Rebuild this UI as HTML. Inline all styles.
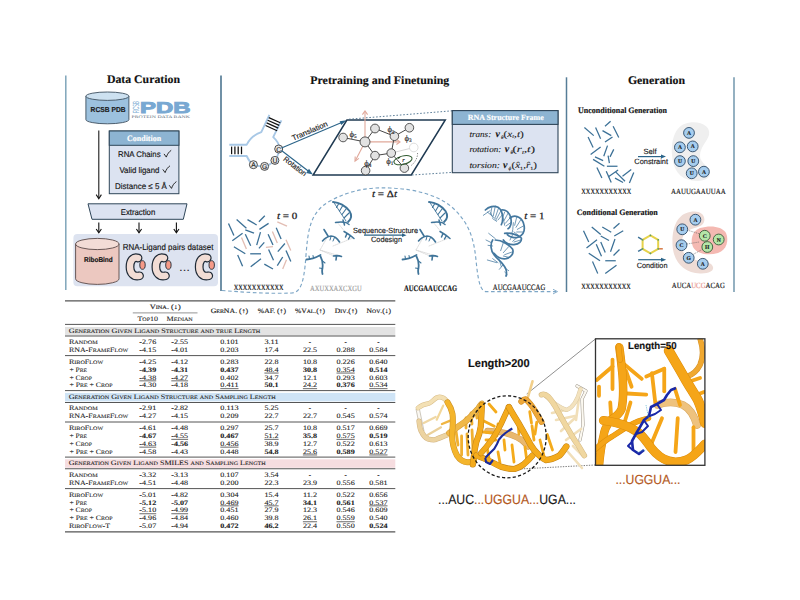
<!DOCTYPE html>
<html><head><meta charset="utf-8"><style>
html,body{margin:0;padding:0;background:#fff;width:800px;height:600px;overflow:hidden}
svg{display:block;text-rendering:geometricPrecision}
.S{font-family:"Liberation Serif", serif}
.A{font-family:"Liberation Sans", sans-serif}
text{stroke-width:0.15px}
</style></head><body>
<svg width="800" height="600" viewBox="0 0 800 600">
<rect width="800" height="600" fill="#fff"/>
<line x1="65.8" y1="75.5" x2="65.8" y2="290" stroke="#7fa5ba" stroke-width="1.5"/>
<line x1="221" y1="75.5" x2="221" y2="291" stroke="#4d7590" stroke-width="1.6"/>
<line x1="566.5" y1="77.3" x2="566.5" y2="292" stroke="#567d97" stroke-width="1.5"/>
<line x1="734" y1="77.3" x2="734" y2="292" stroke="#7a9db2" stroke-width="1.6"/>
<text x="106.9" y="83" class="S" font-size="11.6" font-weight="bold" font-style="normal" fill="#111" text-anchor="start" textLength="73.1" lengthAdjust="spacingAndGlyphs"  stroke="#111">Data Curation</text>
<text x="310.3" y="83.5" class="S" font-size="11.6" font-weight="bold" font-style="normal" fill="#111" text-anchor="start" textLength="139" lengthAdjust="spacingAndGlyphs"  stroke="#111">Pretraining and Finetuning</text>
<text x="627.9" y="83.8" class="S" font-size="11.6" font-weight="bold" font-style="normal" fill="#111" text-anchor="start" textLength="57.1" lengthAdjust="spacingAndGlyphs"  stroke="#111">Generation</text>
<path d="M85.9,96.2 L85.9,119.6 A21.5,4.2 0 0 0 128.9,119.6 L128.9,96.2" fill="#9cc1de" stroke="#3d4f5f" stroke-width="0.9"/><ellipse cx="107.4" cy="96.2" rx="21.5" ry="4.2" fill="#cde1f0" stroke="#3d4f5f" stroke-width="0.9"/>
<text x="108.1" y="111.9" class="A" font-size="7.2" font-weight="bold" font-style="normal" fill="#1a1a1a" text-anchor="middle" textLength="35" lengthAdjust="spacingAndGlyphs"  stroke="#1a1a1a">RCSB PDB</text>
<g fill="#7aaad2">
<text x="0" y="0" class="A" font-size="9.0" font-weight="normal" font-style="normal" fill="#7aaad2" text-anchor="middle" stroke="none" transform="translate(138.6,107.1) rotate(-90)" textLength="12" lengthAdjust="spacingAndGlyphs">RCSB</text>
<text x="140" y="113.2" class="A" font-size="15.6" font-weight="bold" font-style="normal" fill="#78a8d2" text-anchor="start" textLength="50.5" lengthAdjust="spacingAndGlyphs" stroke="#78a8d2" style="stroke-width:0.9px">PDB</text>
</g>
<text x="131.5" y="118.2" class="S" font-size="3.8" font-weight="normal" font-style="normal" fill="#66737f" text-anchor="start" textLength="58.5" lengthAdjust="spacingAndGlyphs" stroke="none">PROTEIN DATA BANK</text>
<line x1="98.8" y1="130.6" x2="98.8" y2="198" stroke="#111" stroke-width="1.05"/>
<path d="M96.2,194.6 L98.8,198.8 L101.4,194.6" fill="none" stroke="#111" stroke-width="1.05"/>
<rect x="109.3" y="131" width="69.6" height="62.7" fill="#dce3f1" stroke="#2f4659" stroke-width="1"/>
<rect x="109.3" y="131" width="69.6" height="14.3" fill="#8db4d2" stroke="#2f4659" stroke-width="1"/>
<text x="144.1" y="141.3" class="S" font-size="8.2" font-weight="bold" font-style="normal" fill="#fff" text-anchor="middle" textLength="34" lengthAdjust="spacingAndGlyphs"  stroke="#fff">Condition</text>
<text x="118" y="157.3" class="A" font-size="8.2" font-weight="normal" font-style="normal" fill="#161616" text-anchor="start" textLength="42.6" lengthAdjust="spacingAndGlyphs"  stroke="#161616">RNA Chains</text>
<text x="119.4" y="173.0" class="A" font-size="8.2" font-weight="normal" font-style="normal" fill="#161616" text-anchor="start" textLength="40" lengthAdjust="spacingAndGlyphs"  stroke="#161616">Valid ligand</text>
<text x="115" y="188.8" class="A" font-size="8.2" font-weight="normal" font-style="normal" fill="#161616" text-anchor="start" textLength="51.9" lengthAdjust="spacingAndGlyphs"  stroke="#161616">Distance ≤ 5 Å</text>
<path d="M164,153.9 L166.3,157.10000000000002 C167.5,153.8 169,151.8 171.2,150.3" fill="none" stroke="#1a1a1a" stroke-width="0.9"/>
<path d="M162.8,169.4 L165.10000000000002,172.60000000000002 C166.3,169.3 167.8,167.3 170.0,165.8" fill="none" stroke="#1a1a1a" stroke-width="0.9"/>
<path d="M169.2,185.2 L171.5,188.4 C172.7,185.1 174.2,183.1 176.39999999999998,181.6" fill="none" stroke="#1a1a1a" stroke-width="0.9"/>
<path d="M88,203.8 L187,203.8 L183.3,219.3 L92,219.3 Z" fill="#dce3f1" stroke="#2f4659" stroke-width="1"/>
<text x="138" y="215.2" class="A" font-size="8.4" font-weight="normal" font-style="normal" fill="#111" text-anchor="middle" textLength="34.6" lengthAdjust="spacingAndGlyphs"  stroke="#111">Extraction</text>
<line x1="98.8" y1="222.5" x2="98.8" y2="232.4" stroke="#111" stroke-width="1.1"/>
<path d="M96.2,229 L98.8,232.8 L101.39999999999999,229" fill="none" stroke="#111" stroke-width="1.1"/>
<line x1="139" y1="222.5" x2="139" y2="232.4" stroke="#111" stroke-width="1.1"/>
<path d="M136.4,229 L139,232.8 L141.6,229" fill="none" stroke="#111" stroke-width="1.1"/>
<line x1="176.4" y1="222.5" x2="176.4" y2="232.4" stroke="#111" stroke-width="1.1"/>
<path d="M173.8,229 L176.4,232.8 L179.0,229" fill="none" stroke="#111" stroke-width="1.1"/>
<rect x="73.4" y="234" width="144.6" height="52.3" rx="4" fill="#dde3f0"/>
<path d="M75.6,244.0 L75.6,278.79999999999995 A21.7,5.6 0 0 0 119.0,278.79999999999995 L119.0,244.0" fill="#ecc8c0" stroke="#5a4a48" stroke-width="0.9"/><ellipse cx="97.3" cy="244.0" rx="21.7" ry="5.6" fill="#f3dcd6" stroke="#5a4a48" stroke-width="0.9"/>
<text x="98.4" y="261.9" class="A" font-size="7.0" font-weight="bold" font-style="normal" fill="#111" text-anchor="middle" textLength="28.7" lengthAdjust="spacingAndGlyphs"  stroke="#111">RiboBind</text>
<text x="168.1" y="249.7" class="A" font-size="8.5" font-weight="normal" font-style="normal" fill="#111" text-anchor="middle" textLength="90.5" lengthAdjust="spacingAndGlyphs"  stroke="#111">RNA-Ligand pairs dataset</text>
<path d="M138,258 C133,256.3 130,261 130,267 C130,273 133.5,277.2 139.5,275.8" fill="none" stroke="#1f2a36" stroke-width="8.8" stroke-linecap="round"/><path d="M138,258 C133,256.3 130,261 130,267 C130,273 133.5,277.2 139.5,275.8" fill="none" stroke="#f2ddd5" stroke-width="6.4" stroke-linecap="round"/><ellipse cx="142.5" cy="265" rx="2.7" ry="4.3" fill="#f59a88" stroke="#1f2a36" stroke-width="0.9"/>
<path d="M163.9,258 C158.9,256.3 155.9,261 155.9,267 C155.9,273 159.4,277.2 165.4,275.8" fill="none" stroke="#1f2a36" stroke-width="8.8" stroke-linecap="round"/><path d="M163.9,258 C158.9,256.3 155.9,261 155.9,267 C155.9,273 159.4,277.2 165.4,275.8" fill="none" stroke="#f2ddd5" stroke-width="6.4" stroke-linecap="round"/><ellipse cx="168.4" cy="265" rx="2.7" ry="4.3" fill="#f59a88" stroke="#1f2a36" stroke-width="0.9"/>
<path d="M207.2,258 C202.2,256.3 199.2,261 199.2,267 C199.2,273 202.7,277.2 208.7,275.8" fill="none" stroke="#1f2a36" stroke-width="8.8" stroke-linecap="round"/><path d="M207.2,258 C202.2,256.3 199.2,261 199.2,267 C199.2,273 202.7,277.2 208.7,275.8" fill="none" stroke="#f2ddd5" stroke-width="6.4" stroke-linecap="round"/><ellipse cx="211.7" cy="265" rx="2.7" ry="4.3" fill="#f59a88" stroke="#1f2a36" stroke-width="0.9"/>
<text x="184.4" y="270.5" class="A" font-size="11.5" font-weight="normal" font-style="normal" fill="#222" text-anchor="middle"  stroke="#222">…</text>
<path d="M229.3,144.7 L246.7,144.7 C249,140 253,135 261.3,132.2 L269.4,114.9" fill="none" stroke="#a8c8e6" stroke-width="1.9" stroke-linejoin="round"/>
<path d="M281.4,120.3 L273.2,137.1 C276.5,140 279,144 279.5,148" fill="none" stroke="#a8c8e6" stroke-width="1.9" stroke-linejoin="round"/>
<path d="M229.3,156 L246.7,156 C248.5,160 250.5,163 253.4,164.7 M257,165.8 L261,166.4 M268,165.6 L271.5,163 M277,157 L278.7,152.5" fill="none" stroke="#a8c8e6" stroke-width="1.9" stroke-linejoin="round"/>
<line x1="231.6" y1="146.6" x2="231.6" y2="154.2" stroke="#111" stroke-width="1.25"/>
<line x1="234.9" y1="146.6" x2="234.9" y2="154.2" stroke="#111" stroke-width="1.25"/>
<line x1="238.2" y1="146.6" x2="238.2" y2="154.2" stroke="#111" stroke-width="1.25"/>
<line x1="241.5" y1="146.6" x2="241.5" y2="154.2" stroke="#111" stroke-width="1.25"/>
<line x1="268.8" y1="117.6" x2="280.3" y2="122.8" stroke="#111" stroke-width="1.2"/>
<line x1="267.7" y1="120.2" x2="279.2" y2="125.4" stroke="#111" stroke-width="1.2"/>
<line x1="266.7" y1="122.9" x2="278.2" y2="128.1" stroke="#111" stroke-width="1.2"/>
<line x1="265.6" y1="125.5" x2="277.1" y2="130.7" stroke="#111" stroke-width="1.2"/>
<circle cx="278.7" cy="149" r="4.0" fill="#e8e8e8" stroke="#333" stroke-width="0.85"/>
<text x="278.7" y="151.5" class="A" font-size="6.8" font-weight="normal" font-style="normal" fill="#222" text-anchor="middle"  stroke="#222">C</text>
<circle cx="274.9" cy="160.4" r="4.0" fill="#e8e8e8" stroke="#333" stroke-width="0.85"/>
<text x="274.9" y="162.9" class="A" font-size="6.8" font-weight="normal" font-style="normal" fill="#222" text-anchor="middle"  stroke="#222">U</text>
<circle cx="264.6" cy="166.4" r="4.0" fill="#e8e8e8" stroke="#333" stroke-width="0.85"/>
<text x="264.6" y="168.9" class="A" font-size="6.8" font-weight="normal" font-style="normal" fill="#222" text-anchor="middle"  stroke="#222">G</text>
<circle cx="253.4" cy="164.7" r="4.0" fill="#e8e8e8" stroke="#333" stroke-width="0.85"/>
<text x="253.4" y="167.2" class="A" font-size="6.8" font-weight="normal" font-style="normal" fill="#222" text-anchor="middle"  stroke="#222">A</text>
<line x1="281.5" y1="148" x2="344" y2="121.4" stroke="#2b6489" stroke-width="1.1"/>
<path d="M339.6,121.2 L346.6,120.3 L341.3,125 Z" fill="#2b6489"/>
<line x1="281.5" y1="150.5" x2="310.5" y2="172.8" stroke="#2b6489" stroke-width="1.1"/>
<path d="M306.2,172.9 L312.9,174.6 L309,168.7 Z" fill="#2b6489"/>
<text x="0" y="0" class="A" font-size="7.6" font-weight="normal" font-style="normal" fill="#222" text-anchor="middle" transform="translate(310.8,133.3) rotate(-23)" textLength="38" lengthAdjust="spacingAndGlyphs" stroke="#222">Translation</text>
<text x="0" y="0" class="A" font-size="7.6" font-weight="normal" font-style="normal" fill="#222" text-anchor="middle" transform="translate(293.5,168.3) rotate(38)" textLength="27" lengthAdjust="spacingAndGlyphs" stroke="#222">Rotation</text>
<path d="M346.9,120 L445.3,120 L411.3,175 L313.1,175 Z" fill="none" stroke="#1f3a52" stroke-width="1.5" stroke-linejoin="miter"/>
<path d="M349,119.2 L452.3,110.8 M412,175 L452.3,172.4" fill="none" stroke="#4a6f8c" stroke-width="0.9" stroke-dasharray="1.6,1.8"/>
<g stroke="#e0a89a" stroke-width="1.1" fill="none"><line x1="365" y1="141.9" x2="365" y2="111.5"/><path d="M362.4,114.6 L365,111 L367.6,114.6"/><line x1="365" y1="141.9" x2="399.5" y2="141.9"/><path d="M396.4,139.3 L400,141.9 L396.4,144.5"/><line x1="365" y1="141.9" x2="355.3" y2="160.8"/><path d="M355.2,156.4 L355,161.2 L358.9,158.4"/></g>
<line x1="343.1" y1="137.5" x2="365" y2="141.9" stroke="#333" stroke-width="0.9"/>
<line x1="365" y1="141.9" x2="375" y2="128.5" stroke="#333" stroke-width="0.9"/>
<line x1="375" y1="128.5" x2="394.4" y2="136.25" stroke="#333" stroke-width="0.9"/>
<line x1="394.4" y1="136.25" x2="409.4" y2="127.75" stroke="#333" stroke-width="0.9"/>
<line x1="394.4" y1="136.25" x2="391.25" y2="153.1" stroke="#333" stroke-width="0.9"/>
<line x1="391.25" y1="153.1" x2="375" y2="155.6" stroke="#333" stroke-width="0.9"/>
<line x1="375" y1="155.6" x2="365" y2="141.9" stroke="#333" stroke-width="0.9"/>
<line x1="375" y1="155.6" x2="365.6" y2="170.6" stroke="#333" stroke-width="0.9"/>
<line x1="391.25" y1="153.1" x2="404.4" y2="168.1" stroke="#333" stroke-width="0.9"/>
<line x1="391.25" y1="153.1" x2="413.75" y2="147.5" stroke="#ccc" stroke-width="0.8"/>
<circle cx="413.75" cy="147.5" r="4.3" fill="#fff" stroke="#d6d6d6" stroke-width="0.8"/>
<path d="M417.5,153 C418,157 415,163 410.5,166" fill="none" stroke="#555" stroke-width="0.7" stroke-dasharray="1.3,1.3"/>
<circle cx="343.1" cy="137.5" r="4.3" fill="#e2e2e2" stroke="#3a3a3a" stroke-width="0.85"/>
<circle cx="365" cy="141.9" r="5.0" fill="#e2e2e2" stroke="#3a3a3a" stroke-width="0.85"/>
<circle cx="375" cy="128.5" r="4.4" fill="#e2e2e2" stroke="#3a3a3a" stroke-width="0.85"/>
<circle cx="394.4" cy="136.25" r="4.3" fill="#e2e2e2" stroke="#3a3a3a" stroke-width="0.85"/>
<circle cx="409.4" cy="127.75" r="4.3" fill="#e2e2e2" stroke="#3a3a3a" stroke-width="0.85"/>
<circle cx="391.25" cy="153.1" r="4.3" fill="#e2e2e2" stroke="#3a3a3a" stroke-width="0.85"/>
<circle cx="375" cy="155.6" r="4.3" fill="#e2e2e2" stroke="#3a3a3a" stroke-width="0.85"/>
<circle cx="365.6" cy="170.6" r="4.3" fill="#e2e2e2" stroke="#3a3a3a" stroke-width="0.85"/>
<circle cx="404.4" cy="168.1" r="4.3" fill="#e2e2e2" stroke="#3a3a3a" stroke-width="0.85"/>
<ellipse cx="403" cy="160.2" rx="9.3" ry="4.2" transform="rotate(-14 403 160.2)" fill="none" stroke="#2f5a2f" stroke-width="1"/>
<path d="M397.5,157.4 L401,156.6 L398.6,159" fill="#1f3f1f"/>
<text x="403.5" y="162.3" class="S" font-size="6.2" font-weight="normal" font-style="italic" fill="#222" text-anchor="middle"  stroke="#222">r</text>
<text x="349.5" y="136.7" class="S" font-size="8.6" fill="#222" stroke="#222">ϕ<tspan font-size="5.2" dy="1.3">5</tspan></text>
<text x="387.5" y="132.3" class="S" font-size="8.6" fill="#222" stroke="#222">ϕ<tspan font-size="5.2" dy="1.3">2</tspan></text>
<text x="404.5" y="141.0" class="S" font-size="8.6" fill="#222" stroke="#222">ϕ<tspan font-size="5.2" dy="1.3">3</tspan></text>
<text x="386.2" y="164.1" class="S" font-size="8.6" fill="#222" stroke="#222">ϕ<tspan font-size="5.2" dy="1.3">1</tspan></text>
<text x="364.3" y="166.0" class="S" font-size="8.6" fill="#222" stroke="#222">ϕ<tspan font-size="5.2" dy="1.3">4</tspan></text>
<rect x="452.3" y="110.6" width="105.7" height="62.1" fill="#dce3f1" stroke="#2f4659" stroke-width="1.1"/>
<rect x="452.3" y="110.6" width="105.7" height="13.8" fill="#8db4d2" stroke="#2f4659" stroke-width="1.1"/>
<text x="505.7" y="120.3" class="S" font-size="8.0" font-weight="bold" font-style="normal" fill="#fff" text-anchor="middle" textLength="76" lengthAdjust="spacingAndGlyphs"  stroke="#fff">RNA Structure Frame</text>
<text x="469.4" y="136.9" class="S" font-size="8.6" font-style="italic" fill="#1a1a1a" style="stroke-width:0.1px" textLength="21.8" lengthAdjust="spacingAndGlyphs" stroke="#1a1a1a">trans:</text><text x="495.4" y="136.9" class="S" font-size="10" font-style="italic" font-weight="bold" fill="#111" style="stroke-width:0.1px" stroke="#111">v</text><text x="501.0" y="138.70000000000002" class="S" font-size="5.2" font-style="italic" fill="#1a1a1a" style="stroke-width:0.1px" stroke="#1a1a1a">θ</text><text x="503.6" y="136.9" class="S" font-size="9" fill="#1a1a1a" style="stroke-width:0.1px" textLength="20.199999999999932" lengthAdjust="spacingAndGlyphs" stroke="#1a1a1a">(<tspan font-style="italic">x</tspan><tspan font-size="5" dy="1.5" font-style="italic">t</tspan><tspan dy="-1.5">,</tspan><tspan font-style="italic">t</tspan>)</text>
<text x="469.4" y="152.0" class="S" font-size="8.6" font-style="italic" fill="#1a1a1a" style="stroke-width:0.1px" textLength="31.8" lengthAdjust="spacingAndGlyphs" stroke="#1a1a1a">rotation:</text><text x="504.8" y="152.0" class="S" font-size="10" font-style="italic" font-weight="bold" fill="#111" style="stroke-width:0.1px" stroke="#111">v</text><text x="510.40000000000003" y="153.8" class="S" font-size="5.2" font-style="italic" fill="#1a1a1a" style="stroke-width:0.1px" stroke="#1a1a1a">θ</text><text x="512.6" y="152.0" class="S" font-size="9" fill="#1a1a1a" style="stroke-width:0.1px" textLength="22.399999999999977" lengthAdjust="spacingAndGlyphs" stroke="#1a1a1a">(<tspan font-style="italic">r</tspan><tspan font-size="5" dy="1.5" font-style="italic">t</tspan><tspan dy="-1.5">,</tspan><tspan font-style="italic">t</tspan>)</text>
<text x="469.4" y="168.0" class="S" font-size="8.6" font-style="italic" fill="#1a1a1a" style="stroke-width:0.1px" textLength="30.6" lengthAdjust="spacingAndGlyphs" stroke="#1a1a1a">torsion:</text><text x="503.0" y="168.0" class="S" font-size="10" font-style="italic" font-weight="bold" fill="#111" style="stroke-width:0.1px" stroke="#111">v</text><text x="508.6" y="169.8" class="S" font-size="5.2" font-style="italic" fill="#1a1a1a" style="stroke-width:0.1px" stroke="#1a1a1a">ϕ</text><text x="511.6" y="168.0" class="S" font-size="9" fill="#1a1a1a" style="stroke-width:0.1px" textLength="25.299999999999955" lengthAdjust="spacingAndGlyphs" stroke="#1a1a1a">(<tspan font-style="italic">x̂</tspan><tspan font-size="5" dy="1.5">1</tspan><tspan dy="-1.5">,</tspan><tspan font-style="italic">r̂</tspan><tspan font-size="5" dy="1.5">1</tspan><tspan dy="-1.5">)</tspan></text>
<g stroke="#e2bdb3" stroke-width="1.3" stroke-linecap="butt"><line x1="277.3" y1="221.8" x2="287" y2="226.1"/><line x1="241.5" y1="237.5" x2="246.4" y2="248.9"/><line x1="272.4" y1="231.6" x2="277.3" y2="242.9"/><line x1="265.9" y1="247.3" x2="272.9" y2="246.7"/><line x1="286" y1="239.7" x2="290.8" y2="250.5"/><line x1="282.7" y1="269" x2="286.5" y2="259.7"/></g>
<g stroke="#3b7096" stroke-width="1.3" stroke-linecap="butt"><line x1="228.5" y1="223.4" x2="233.9" y2="235.4"/><line x1="236.6" y1="219.6" x2="246.4" y2="228.3"/><line x1="247.5" y1="219.6" x2="256.7" y2="225"/><line x1="258.9" y1="221.8" x2="264.8" y2="215.8"/><line x1="259.4" y1="229.4" x2="268.6" y2="223.4"/><line x1="245.3" y1="229.9" x2="254" y2="233.2"/><line x1="232.3" y1="240.8" x2="242.6" y2="233.2"/><line x1="245.3" y1="234.3" x2="250.7" y2="245.7"/><line x1="256.7" y1="245.1" x2="260.5" y2="232.1"/><line x1="258.9" y1="248.4" x2="264.3" y2="242.4"/><line x1="268.1" y1="234.3" x2="273" y2="245.1"/><line x1="276.2" y1="227.8" x2="281.1" y2="239.1"/><line x1="233.9" y1="246.7" x2="245.3" y2="253.8"/><line x1="250.2" y1="253.8" x2="261" y2="253.8"/><line x1="268.6" y1="249.4" x2="273.5" y2="260.3"/><line x1="277.8" y1="251.6" x2="284.9" y2="243.5"/><line x1="237.7" y1="254.9" x2="242.6" y2="266.2"/><line x1="250.7" y1="266.8" x2="261" y2="258.7"/><line x1="264.3" y1="264.1" x2="273" y2="269"/><line x1="277.3" y1="265.7" x2="282.7" y2="257"/><line x1="286" y1="250.5" x2="290.8" y2="261.4"/></g>
<text x="277" y="219.3" class="S" font-size="9.6" fill="#1a1a1a" style="stroke-width:0.25px" textLength="20.3" lengthAdjust="spacingAndGlyphs" stroke="#1a1a1a"><tspan font-style="italic">t</tspan> = 0</text>
<text x="372" y="197" class="S" font-size="9.6" fill="#1a1a1a" style="stroke-width:0.25px" textLength="25" lengthAdjust="spacingAndGlyphs" stroke="#1a1a1a"><tspan font-style="italic">t</tspan> = Δ<tspan font-style="italic">t</tspan></text>
<text x="524.3" y="218.9" class="S" font-size="9.6" fill="#1a1a1a" style="stroke-width:0.25px" textLength="20.1" lengthAdjust="spacingAndGlyphs" stroke="#1a1a1a"><tspan font-style="italic">t</tspan> = 1</text>
<path d="M222,290.5 C240,292 270,294 292,293 C300,292 304,285 306,255 C308,230 310,212 330,201 C350,190 370,187 390,188 C415,189 440,195 455,210 C470,225 474,240 476,260 C478,280 480,291 486,291.6 L556,291.6" fill="none" stroke="#7da6c6" stroke-width="1.15" stroke-dasharray="3.6,2.6"/>
<path d="M553,289.3 L557.5,291.6 L553,293.9" fill="none" stroke="#7da6c6" stroke-width="0.9"/>
<text x="385.5" y="233" class="A" font-size="7.6" font-weight="normal" font-style="normal" fill="#1a1a1a" text-anchor="middle" textLength="65" lengthAdjust="spacingAndGlyphs"  stroke="#1a1a1a">Sequence-Structure</text>
<text x="386.5" y="242.4" class="A" font-size="7.6" font-weight="normal" font-style="normal" fill="#1a1a1a" text-anchor="middle" textLength="31" lengthAdjust="spacingAndGlyphs"  stroke="#1a1a1a">Codesign</text>
<line x1="364" y1="235.2" x2="403" y2="235.2" stroke="#2b6489" stroke-width="1.2"/>
<path d="M402,233.3 L406.5,235.2 L402,237.1 Z" fill="#2b6489"/>
<text x="233.8" y="290.3" class="S" font-size="7.8" font-weight="normal" font-style="normal" fill="#111" text-anchor="start" textLength="49.7" lengthAdjust="spacingAndGlyphs"  stroke="#111">XXXXXXXXXXX</text>
<text x="310" y="290.6" class="S" font-size="8.0" font-weight="normal" font-style="normal" fill="#9a9a9a" text-anchor="start" textLength="51.6" lengthAdjust="spacingAndGlyphs"  stroke="#9a9a9a">AXUXXAXCXGU</text>
<text x="404" y="290.5" class="S" font-size="8.2" font-weight="bold" font-style="normal" fill="#111" text-anchor="start" textLength="53" lengthAdjust="spacingAndGlyphs"  stroke="#111">AUCGAAUCCAG</text>
<text x="492.8" y="290.3" class="S" font-size="8.2" font-weight="normal" font-style="normal" fill="#111" text-anchor="start" textLength="52.5" lengthAdjust="spacingAndGlyphs"  stroke="#111">AUCGAAUCCAG</text>
<g transform="translate(0,0)" fill="none" stroke="#3f7499" stroke-linecap="round" stroke-linejoin="round"><path d="M337,222 L346,233 M328,236 L320,250 L334,256 M333,246 L353,238 M320,250 L340,256" stroke="#c8c8c8" stroke-width="0.6" stroke-dasharray="1,1"/><path d="M333,202 C339,202.5 345,205.5 349.5,211 C352,215 351.5,219 348,222" stroke-width="1.9"/><path d="M334.5,203.5 C338,209 342,215 346,221" stroke-width="0.9"/><path d="M338.5,204 L336.5,207.5 M342.5,206 L339.5,211 M346,209 L342,214.5 M349,213 L344,218" stroke-width="1.1"/><path d="M335.5,222.5 C339,222 343,222 346,222.5 L349,224.5 M343,220 L344.5,225" stroke-width="1.5"/><path d="M324,229.5 L328,236 M322.5,241 C325,238 328,236.5 331,236 C334,236 337,238 339.5,242" stroke-width="1.6"/><path d="M331,236.5 L330,240 M334.5,237.5 L333,241" stroke-width="1"/><path d="M344,231.5 C348,233.5 351,236 354,238.5 M347,233.5 L345.5,237 M350.5,235.5 L348.5,239" stroke-width="1.5"/><path d="M306.5,259.5 C310,259.5 315,258 320.5,255 M320.5,256.5 C322.5,260 323,264 322.5,268 C322,270 322,272 322.5,274" stroke-width="1.8"/><path d="M309.5,259 L309,256 M313.5,258 L313,255.5 M322.5,261 L325,263 M322,268.5 L319.5,268" stroke-width="1.1"/><path d="M333.5,256 C336,255.5 339,255.5 341.5,256.5 M336.5,256 L336,260" stroke-width="1.6"/></g>
<g transform="translate(96,0)" fill="none" stroke="#3f7499" stroke-linecap="round" stroke-linejoin="round"><path d="M337,222 L346,233 M328,236 L320,250 L334,256 M333,246 L353,238 M320,250 L340,256" stroke="#c8c8c8" stroke-width="0.6" stroke-dasharray="1,1"/><path d="M333,202 C339,202.5 345,205.5 349.5,211 C352,215 351.5,219 348,222" stroke-width="1.9"/><path d="M334.5,203.5 C338,209 342,215 346,221" stroke-width="0.9"/><path d="M338.5,204 L336.5,207.5 M342.5,206 L339.5,211 M346,209 L342,214.5 M349,213 L344,218" stroke-width="1.1"/><path d="M335.5,222.5 C339,222 343,222 346,222.5 L349,224.5 M343,220 L344.5,225" stroke-width="1.5"/><path d="M324,229.5 L328,236 M322.5,241 C325,238 328,236.5 331,236 C334,236 337,238 339.5,242" stroke-width="1.6"/><path d="M331,236.5 L330,240 M334.5,237.5 L333,241" stroke-width="1"/><path d="M344,231.5 C348,233.5 351,236 354,238.5 M347,233.5 L345.5,237 M350.5,235.5 L348.5,239" stroke-width="1.5"/><path d="M306.5,259.5 C310,259.5 315,258 320.5,255 M320.5,256.5 C322.5,260 323,264 322.5,268 C322,270 322,272 322.5,274" stroke-width="1.8"/><path d="M309.5,259 L309,256 M313.5,258 L313,255.5 M322.5,261 L325,263 M322,268.5 L319.5,268" stroke-width="1.1"/><path d="M333.5,256 C336,255.5 339,255.5 341.5,256.5 M336.5,256 L336,260" stroke-width="1.6"/></g>
<g transform="translate(478,200) scale(0.13333)" fill="none" stroke="#44789f" stroke-linecap="round" stroke-linejoin="round"><g stroke-width="1.7" vector-effect="non-scaling-stroke"><path vector-effect="non-scaling-stroke" d="M55,75 C80,50 120,40 150,55 C175,70 185,100 185,140 C185,160 180,175 175,185"/><path vector-effect="non-scaling-stroke" d="M175,75 C205,70 235,90 245,130 C255,170 245,205 225,215"/><path vector-effect="non-scaling-stroke" d="M240,135 C270,110 320,120 340,170 C355,215 345,255 310,275 C280,290 240,280 220,260"/><path vector-effect="non-scaling-stroke" d="M200,250 C240,245 300,260 325,285 C330,310 310,330 270,335 C240,338 200,320 190,300"/><path vector-effect="non-scaling-stroke" d="M130,300 C180,300 240,340 260,370 C270,400 250,430 210,440 C170,445 140,425 120,400"/><path vector-effect="non-scaling-stroke" d="M110,300 C90,330 95,380 120,410 C150,450 190,470 210,520 C215,540 215,560 210,570"/></g><g stroke-width="0.75"><path vector-effect="non-scaling-stroke" d="M70,90 C95,110 120,130 140,150"/><path vector-effect="non-scaling-stroke" d="M105,48 L95,105"/><path vector-effect="non-scaling-stroke" d="M130,45 L115,118"/><path vector-effect="non-scaling-stroke" d="M155,58 L130,130"/><path vector-effect="non-scaling-stroke" d="M172,80 L140,140"/><path vector-effect="non-scaling-stroke" d="M183,110 L150,150"/><path vector-effect="non-scaling-stroke" d="M40,115 L90,80"/><path vector-effect="non-scaling-stroke" d="M95,95 L110,130"/><path vector-effect="non-scaling-stroke" d="M110,140 L140,160"/><path vector-effect="non-scaling-stroke" d="M180,100 L200,190"/><path vector-effect="non-scaling-stroke" d="M200,90 L185,130"/><path vector-effect="non-scaling-stroke" d="M225,100 L195,155"/><path vector-effect="non-scaling-stroke" d="M240,135 L205,175"/><path vector-effect="non-scaling-stroke" d="M245,170 L210,195"/><path vector-effect="non-scaling-stroke" d="M290,130 L275,190"/><path vector-effect="non-scaling-stroke" d="M320,150 L285,205"/><path vector-effect="non-scaling-stroke" d="M340,195 L295,220"/><path vector-effect="non-scaling-stroke" d="M340,240 L290,240"/><path vector-effect="non-scaling-stroke" d="M310,270 L270,240"/><path vector-effect="non-scaling-stroke" d="M265,170 C260,210 265,235 250,255"/><path vector-effect="non-scaling-stroke" d="M260,260 L240,300"/><path vector-effect="non-scaling-stroke" d="M300,275 L260,310"/><path vector-effect="non-scaling-stroke" d="M320,300 L270,315"/><path vector-effect="non-scaling-stroke" d="M190,320 L170,380"/><path vector-effect="non-scaling-stroke" d="M230,350 L190,395"/><path vector-effect="non-scaling-stroke" d="M255,390 L200,410"/><path vector-effect="non-scaling-stroke" d="M230,430 L190,420"/><path vector-effect="non-scaling-stroke" d="M80,250 L130,290"/><path vector-effect="non-scaling-stroke" d="M60,300 L100,320"/><path vector-effect="non-scaling-stroke" d="M75,340 L110,345"/><path vector-effect="non-scaling-stroke" d="M70,450 L140,470"/><path vector-effect="non-scaling-stroke" d="M110,440 L150,470"/><path vector-effect="non-scaling-stroke" d="M160,450 L175,500"/><path vector-effect="non-scaling-stroke" d="M185,490 L160,520"/><path vector-effect="non-scaling-stroke" d="M200,510 L230,530"/><path vector-effect="non-scaling-stroke" d="M200,540 L220,560"/></g></g>
<text x="578.1" y="112.9" class="S" font-size="8.3" font-weight="bold" font-style="normal" fill="#111" text-anchor="start" textLength="88.8" lengthAdjust="spacingAndGlyphs"  stroke="#111">Unconditional Generation</text>
<text x="576.8" y="215" class="S" font-size="8.3" font-weight="bold" font-style="normal" fill="#111" text-anchor="start" textLength="81" lengthAdjust="spacingAndGlyphs"  stroke="#111">Conditional Generation</text>
<g stroke="#3b7096" stroke-width="1.25" stroke-linecap="butt"><line x1="584.4" y1="127.5" x2="593.75" y2="135.6"/><line x1="595.6" y1="127.5" x2="600.6" y2="138.75"/><line x1="605" y1="126.25" x2="610.6" y2="121.25"/><line x1="602.5" y1="130.6" x2="611.25" y2="135.6"/><line x1="613.1" y1="126.25" x2="618.75" y2="137.5"/><line x1="605" y1="141.9" x2="612.5" y2="136.9"/><line x1="588.1" y1="136.9" x2="593.1" y2="147.5"/><line x1="590.6" y1="154.4" x2="600.6" y2="146.9"/><line x1="603.75" y1="156.25" x2="607.5" y2="145.6"/><line x1="610" y1="156.9" x2="613.75" y2="149.4"/><line x1="595" y1="156.9" x2="603.1" y2="160.6"/><line x1="593.1" y1="159.4" x2="604.4" y2="166.25"/><line x1="608.1" y1="155.6" x2="609.4" y2="163.1"/><line x1="606.9" y1="166.25" x2="617.5" y2="166.25"/><line x1="596.9" y1="167.5" x2="601.9" y2="178.1"/><line x1="606.25" y1="171.25" x2="611.25" y2="182.5"/><line x1="608.1" y1="176.9" x2="618.1" y2="170"/><line x1="615.6" y1="171.9" x2="625" y2="181.25"/><line x1="622.5" y1="176.25" x2="631.25" y2="169.4"/><line x1="629.4" y1="183.1" x2="633.75" y2="172.5"/><line x1="615" y1="178.1" x2="623.1" y2="182.5"/></g>
<g stroke="#3b7096" stroke-width="1.25" stroke-linecap="butt"><line x1="583.5" y1="230.75" x2="588.75" y2="242"/><line x1="591.75" y1="227" x2="600.75" y2="234.5"/><line x1="602.25" y1="227" x2="611.25" y2="232.25"/><line x1="613.5" y1="228.5" x2="619.5" y2="223.25"/><line x1="614.25" y1="236" x2="623.25" y2="230.75"/><line x1="600.75" y1="236" x2="609" y2="240.5"/><line x1="586.5" y1="248" x2="597" y2="239.75"/><line x1="596.25" y1="244.25" x2="601.5" y2="256.25"/><line x1="600.75" y1="242" x2="605.25" y2="252.5"/><line x1="610.5" y1="251.75" x2="615" y2="239"/><line x1="613.5" y1="255.5" x2="619.5" y2="249.5"/><line x1="588.75" y1="253.25" x2="600" y2="260.75"/><line x1="605.25" y1="260.75" x2="615.75" y2="260.75"/><line x1="592.5" y1="261.5" x2="597.75" y2="273.5"/><line x1="605.25" y1="273.5" x2="616.5" y2="265.25"/></g>
<text x="581.3" y="193.8" class="S" font-size="7.8" font-weight="normal" font-style="normal" fill="#111" text-anchor="start" textLength="50" lengthAdjust="spacingAndGlyphs"  stroke="#111">XXXXXXXXXXX</text>
<text x="581.3" y="288.5" class="S" font-size="7.8" font-weight="normal" font-style="normal" fill="#111" text-anchor="start" textLength="49.5" lengthAdjust="spacingAndGlyphs"  stroke="#111">XXXXXXXXXXX</text>
<text x="671" y="194" class="S" font-size="8.0" font-weight="normal" font-style="normal" fill="#111" text-anchor="start" textLength="54.7" lengthAdjust="spacingAndGlyphs"  stroke="#111">AAUUGAAUUAA</text>
<text x="671.8" y="288.3" class="S" font-size="8.0" fill="#111" textLength="53.2" lengthAdjust="spacingAndGlyphs" stroke="#111">AUCA<tspan fill="#e8948a" stroke="#e8948a">UCG</tspan>ACAG</text>
<text x="650" y="154.4" class="A" font-size="7.6" font-weight="normal" font-style="normal" fill="#1a1a1a" text-anchor="middle" textLength="13" lengthAdjust="spacingAndGlyphs"  stroke="#1a1a1a">Self</text>
<text x="651.2" y="164.4" class="A" font-size="7.6" font-weight="normal" font-style="normal" fill="#1a1a1a" text-anchor="middle" textLength="33.7" lengthAdjust="spacingAndGlyphs"  stroke="#1a1a1a">Constraint</text>
<line x1="638" y1="156.6" x2="662" y2="156.6" stroke="#2b6489" stroke-width="1.2"/>
<path d="M661,154.6 L666,156.6 L661,158.6 Z" fill="#2b6489"/>
<path d="M690,122.5 C702,121 711,127 709,135 C707,142 700,147 700,156 C700,163 709,166 710,172 C711,179 703,182 692,180.5 C680,179 673,170 672,155 C671,138 676,124 690,122.5 Z" fill="#efefef"/>
<circle cx="689" cy="132.9" r="5.4" fill="#a6cdee" stroke="#2d4a66" stroke-width="0.9"/><text x="689" y="134.9" class="S" font-size="5.6" font-weight="bold" font-style="normal" fill="#1a1a1a" text-anchor="middle"  stroke="#1a1a1a">A</text>
<circle cx="679.9" cy="147.3" r="5.4" fill="#a6cdee" stroke="#2d4a66" stroke-width="0.9"/><text x="679.9" y="149.3" class="S" font-size="5.6" font-weight="bold" font-style="normal" fill="#1a1a1a" text-anchor="middle"  stroke="#1a1a1a">A</text>
<circle cx="692.7" cy="146.4" r="5.4" fill="#a6cdee" stroke="#2d4a66" stroke-width="0.9"/><text x="692.7" y="148.4" class="S" font-size="5.6" font-weight="bold" font-style="normal" fill="#1a1a1a" text-anchor="middle"  stroke="#1a1a1a">A</text>
<circle cx="679.9" cy="161.1" r="5.4" fill="#a6cdee" stroke="#2d4a66" stroke-width="0.9"/><text x="679.9" y="163.1" class="S" font-size="5.6" font-weight="bold" font-style="normal" fill="#1a1a1a" text-anchor="middle"  stroke="#1a1a1a">U</text>
<circle cx="693.3" cy="161.1" r="5.4" fill="#a6cdee" stroke="#2d4a66" stroke-width="0.9"/><text x="693.3" y="163.1" class="S" font-size="5.6" font-weight="bold" font-style="normal" fill="#1a1a1a" text-anchor="middle"  stroke="#1a1a1a">U</text>
<circle cx="691.7" cy="173.3" r="5.4" fill="#a6cdee" stroke="#2d4a66" stroke-width="0.9"/><text x="691.7" y="175.3" class="S" font-size="5.6" font-weight="bold" font-style="normal" fill="#1a1a1a" text-anchor="middle"  stroke="#1a1a1a">U</text>
<circle cx="703.9" cy="171.7" r="5.4" fill="#a6cdee" stroke="#2d4a66" stroke-width="0.9"/><text x="703.9" y="173.7" class="S" font-size="5.6" font-weight="bold" font-style="normal" fill="#1a1a1a" text-anchor="middle"  stroke="#1a1a1a">A</text>
<line x1="638.2" y1="259.7" x2="662" y2="259.7" stroke="#2b6489" stroke-width="1.2"/>
<path d="M661,257.7 L666.2,259.7 L661,261.7 Z" fill="#2b6489"/>
<text x="652.1" y="268.3" class="A" font-size="7.6" font-weight="normal" font-style="normal" fill="#1a1a1a" text-anchor="middle" textLength="30.8" lengthAdjust="spacingAndGlyphs"  stroke="#1a1a1a">Condition</text>
<line x1="642.6" y1="239.8" x2="638.1" y2="237.2" stroke="#3b7096" stroke-width="1.4"/>
<line x1="642.6" y1="248.8" x2="638.1" y2="251.4" stroke="#3b7096" stroke-width="1.4"/>
<line x1="658.2" y1="248.8" x2="662.8" y2="248.8" stroke="#d9804f" stroke-width="1.6"/>
<path d="M658.19,248.80 L650.40,253.30 L642.61,248.80 L642.61,239.80 L650.40,235.30 L658.19,239.80 Z" fill="none" stroke="#e6d24a" stroke-width="2.0"/>
<circle cx="658.19" cy="248.80" r="0.9" fill="#5a9a6a"/>
<circle cx="650.40" cy="253.30" r="0.9" fill="#5a9a6a"/>
<circle cx="642.61" cy="248.80" r="0.9" fill="#5a9a6a"/>
<circle cx="642.61" cy="239.80" r="0.9" fill="#5a9a6a"/>
<circle cx="650.40" cy="235.30" r="0.9" fill="#5a9a6a"/>
<circle cx="658.19" cy="239.80" r="0.9" fill="#5a9a6a"/>
<path d="M690,212 C700,210 706,215 704,222 C702,228 692,227 686,232 C680,238 680,250 686,256 C692,261 705,260 711,264 C716,269 712,274 700,273.5 C684,273 673,262 672.5,244 C672,226 678,214 690,212 Z" fill="#eedcd6"/>
<path d="M700,228 C710,225 722,226 726,233 C729,240 727,250 718,253 C708,256 697,254 693,247 C690,240 692,231 700,228 Z" fill="#f4b9b2"/>
<path d="M687,230 L700,234 M687,244 L699,242 M692,255 L703,249" stroke="#555" stroke-width="0.6" stroke-dasharray="1,0.9"/>
<circle cx="695.4" cy="219.7" r="5.4" fill="#a6cdee" stroke="#2d4a66" stroke-width="0.9"/><text x="695.4" y="221.7" class="S" font-size="5.6" font-weight="bold" font-style="normal" fill="#1a1a1a" text-anchor="middle"  stroke="#1a1a1a">A</text>
<circle cx="682.25" cy="229.3" r="5.4" fill="#a6cdee" stroke="#2d4a66" stroke-width="0.9"/><text x="682.25" y="231.3" class="S" font-size="5.6" font-weight="bold" font-style="normal" fill="#1a1a1a" text-anchor="middle"  stroke="#1a1a1a">U</text>
<circle cx="681.5" cy="245.2" r="5.4" fill="#a6cdee" stroke="#2d4a66" stroke-width="0.9"/><text x="681.5" y="247.2" class="S" font-size="5.6" font-weight="bold" font-style="normal" fill="#1a1a1a" text-anchor="middle"  stroke="#1a1a1a">C</text>
<circle cx="688.7" cy="257.8" r="5.4" fill="#a6cdee" stroke="#2d4a66" stroke-width="0.9"/><text x="688.7" y="259.8" class="S" font-size="5.6" font-weight="bold" font-style="normal" fill="#1a1a1a" text-anchor="middle"  stroke="#1a1a1a">G</text>
<circle cx="702.8" cy="263.8" r="5.4" fill="#a6cdee" stroke="#2d4a66" stroke-width="0.9"/><text x="702.8" y="265.8" class="S" font-size="5.6" font-weight="bold" font-style="normal" fill="#1a1a1a" text-anchor="middle"  stroke="#1a1a1a">A</text>
<circle cx="704.75" cy="235.75" r="5.4" fill="#b4e6a8" stroke="#3a5a3a" stroke-width="0.9"/><text x="704.75" y="237.75" class="S" font-size="5.6" font-weight="bold" font-style="normal" fill="#1a1a1a" text-anchor="middle"  stroke="#1a1a1a">C</text>
<circle cx="718.7" cy="239.5" r="5.4" fill="#b4e6a8" stroke="#3a5a3a" stroke-width="0.9"/><text x="718.7" y="241.5" class="S" font-size="5.6" font-weight="bold" font-style="normal" fill="#1a1a1a" text-anchor="middle"  stroke="#1a1a1a">N</text>
<circle cx="707.3" cy="247" r="5.4" fill="#b4e6a8" stroke="#3a5a3a" stroke-width="0.9"/><text x="707.3" y="249" class="S" font-size="5.6" font-weight="bold" font-style="normal" fill="#1a1a1a" text-anchor="middle"  stroke="#1a1a1a">H</text>
<line x1="65" y1="300.9" x2="395.3" y2="300.9" stroke="#555" stroke-width="1.3"/>
<line x1="132.8" y1="312.9" x2="197.5" y2="312.9" stroke="#666" stroke-width="0.7"/>
<line x1="65" y1="324.4" x2="395.3" y2="324.4" stroke="#555" stroke-width="1.0"/>
<text x="165.2" y="309" class="S" font-size="6.8" fill="#1a1a1a" text-anchor="middle" textLength="31" lengthAdjust="spacingAndGlyphs" stroke="#1a1a1a">V<tspan font-size="5.17">I</tspan><tspan font-size="5.17">N</tspan><tspan font-size="5.17">A</tspan>. (↓)</text>
<text x="147.8" y="320.5" class="S" font-size="6.8" fill="#1a1a1a" text-anchor="middle" style="stroke-width:0.08px" textLength="20.6" lengthAdjust="spacingAndGlyphs" stroke="#1a1a1a">T<tspan font-size="5.17">O</tspan><tspan font-size="5.17">P</tspan>10</text>
<text x="179.7" y="320.5" class="S" font-size="6.8" fill="#1a1a1a" text-anchor="middle" style="stroke-width:0.08px" textLength="26.2" lengthAdjust="spacingAndGlyphs" stroke="#1a1a1a">M<tspan font-size="5.17">E</tspan><tspan font-size="5.17">D</tspan><tspan font-size="5.17">I</tspan><tspan font-size="5.17">A</tspan><tspan font-size="5.17">N</tspan></text>
<text x="229.4" y="312.8" class="S" font-size="6.8" fill="#1a1a1a" text-anchor="middle" textLength="37.5" lengthAdjust="spacingAndGlyphs" stroke="#1a1a1a">G<tspan font-size="5.17">E</tspan><tspan font-size="5.17">R</tspan>NA. (↑)</text>
<text x="271.9" y="312.8" class="S" font-size="6.8" fill="#1a1a1a" text-anchor="middle" textLength="28.1" lengthAdjust="spacingAndGlyphs" stroke="#1a1a1a">%AF. (↑)</text>
<text x="310" y="312.8" class="S" font-size="6.8" fill="#1a1a1a" text-anchor="middle" textLength="30" lengthAdjust="spacingAndGlyphs" stroke="#1a1a1a">%V<tspan font-size="5.17">A</tspan><tspan font-size="5.17">L</tspan>.(↑)</text>
<text x="346.0" y="312.8" class="S" font-size="6.8" fill="#1a1a1a" text-anchor="middle" textLength="22.5" lengthAdjust="spacingAndGlyphs" stroke="#1a1a1a">D<tspan font-size="5.17">I</tspan><tspan font-size="5.17">V</tspan>.(↑)</text>
<text x="378.8" y="312.8" class="S" font-size="6.8" fill="#1a1a1a" text-anchor="middle" textLength="24.4" lengthAdjust="spacingAndGlyphs" stroke="#1a1a1a">N<tspan font-size="5.17">O</tspan><tspan font-size="5.17">V</tspan>.(↓)</text>
<rect x="65" y="327.0" width="330.3" height="8.5" fill="#e3e3e3"/>
<text x="68.75" y="332.9" class="S" font-size="6.8" fill="#1a1a1a" text-anchor="start" style="stroke-width:0.08px" textLength="191.6" lengthAdjust="spacingAndGlyphs" stroke="#1a1a1a">G<tspan font-size="5.17">E</tspan><tspan font-size="5.17">N</tspan><tspan font-size="5.17">E</tspan><tspan font-size="5.17">R</tspan><tspan font-size="5.17">A</tspan><tspan font-size="5.17">T</tspan><tspan font-size="5.17">I</tspan><tspan font-size="5.17">O</tspan><tspan font-size="5.17">N</tspan> G<tspan font-size="5.17">I</tspan><tspan font-size="5.17">V</tspan><tspan font-size="5.17">E</tspan><tspan font-size="5.17">N</tspan> L<tspan font-size="5.17">I</tspan><tspan font-size="5.17">G</tspan><tspan font-size="5.17">A</tspan><tspan font-size="5.17">N</tspan><tspan font-size="5.17">D</tspan> S<tspan font-size="5.17">T</tspan><tspan font-size="5.17">R</tspan><tspan font-size="5.17">U</tspan><tspan font-size="5.17">C</tspan><tspan font-size="5.17">T</tspan><tspan font-size="5.17">U</tspan><tspan font-size="5.17">R</tspan><tspan font-size="5.17">E</tspan> <tspan font-size="5.17">A</tspan><tspan font-size="5.17">N</tspan><tspan font-size="5.17">D</tspan> <tspan font-size="5.17">T</tspan><tspan font-size="5.17">R</tspan><tspan font-size="5.17">U</tspan><tspan font-size="5.17">E</tspan> L<tspan font-size="5.17">E</tspan><tspan font-size="5.17">N</tspan><tspan font-size="5.17">G</tspan><tspan font-size="5.17">T</tspan><tspan font-size="5.17">H</tspan></text>
<text x="68.9" y="344.15" class="S" font-size="6.8" fill="#1a1a1a" text-anchor="start" style="stroke-width:0.08px" textLength="28.8" lengthAdjust="spacingAndGlyphs" stroke="#1a1a1a">R<tspan font-size="5.17">A</tspan><tspan font-size="5.17">N</tspan><tspan font-size="5.17">D</tspan><tspan font-size="5.17">O</tspan><tspan font-size="5.17">M</tspan></text><text x="147.8" y="344.15" class="S" font-size="6.8" font-weight="normal" fill="#1a1a1a" text-anchor="middle" style="stroke-width:0.1px" textLength="16.87" lengthAdjust="spacingAndGlyphs" stroke="#1a1a1a">-2.76</text><text x="179.7" y="344.15" class="S" font-size="6.8" font-weight="normal" fill="#1a1a1a" text-anchor="middle" style="stroke-width:0.1px" textLength="16.87" lengthAdjust="spacingAndGlyphs" stroke="#1a1a1a">-2.55</text><text x="229.4" y="344.15" class="S" font-size="6.8" font-weight="normal" fill="#1a1a1a" text-anchor="middle" style="stroke-width:0.1px" textLength="18.22" lengthAdjust="spacingAndGlyphs" stroke="#1a1a1a">0.101</text><text x="271.5" y="344.15" class="S" font-size="6.8" font-weight="normal" fill="#1a1a1a" text-anchor="middle" style="stroke-width:0.1px" textLength="14.17" lengthAdjust="spacingAndGlyphs" stroke="#1a1a1a">3.11</text><text x="310" y="344.15" class="S" font-size="6.8" font-weight="normal" fill="#1a1a1a" text-anchor="middle" style="stroke-width:0.1px" stroke="#1a1a1a">-</text><text x="345.6" y="344.15" class="S" font-size="6.8" font-weight="normal" fill="#1a1a1a" text-anchor="middle" style="stroke-width:0.1px" stroke="#1a1a1a">-</text><text x="378.4" y="344.15" class="S" font-size="6.8" font-weight="normal" fill="#1a1a1a" text-anchor="middle" style="stroke-width:0.1px" stroke="#1a1a1a">-</text>
<text x="68.9" y="352.2" class="S" font-size="6.8" fill="#1a1a1a" text-anchor="start" style="stroke-width:0.08px" textLength="59.3" lengthAdjust="spacingAndGlyphs" stroke="#1a1a1a">RNA-F<tspan font-size="5.17">R</tspan><tspan font-size="5.17">A</tspan><tspan font-size="5.17">M</tspan><tspan font-size="5.17">E</tspan>F<tspan font-size="5.17">L</tspan><tspan font-size="5.17">O</tspan><tspan font-size="5.17">W</tspan></text><text x="147.8" y="352.2" class="S" font-size="6.8" font-weight="normal" fill="#1a1a1a" text-anchor="middle" style="stroke-width:0.1px" textLength="16.87" lengthAdjust="spacingAndGlyphs" stroke="#1a1a1a">-4.15</text><text x="179.7" y="352.2" class="S" font-size="6.8" font-weight="normal" fill="#1a1a1a" text-anchor="middle" style="stroke-width:0.1px" textLength="16.87" lengthAdjust="spacingAndGlyphs" stroke="#1a1a1a">-4.01</text><text x="229.4" y="352.2" class="S" font-size="6.8" font-weight="normal" fill="#1a1a1a" text-anchor="middle" style="stroke-width:0.1px" textLength="18.22" lengthAdjust="spacingAndGlyphs" stroke="#1a1a1a">0.203</text><text x="271.5" y="352.2" class="S" font-size="6.8" font-weight="normal" fill="#1a1a1a" text-anchor="middle" style="stroke-width:0.1px" textLength="14.17" lengthAdjust="spacingAndGlyphs" stroke="#1a1a1a">17.4</text><text x="310" y="352.2" class="S" font-size="6.8" font-weight="normal" fill="#1a1a1a" text-anchor="middle" style="stroke-width:0.1px" textLength="14.17" lengthAdjust="spacingAndGlyphs" stroke="#1a1a1a">22.5</text><text x="345.6" y="352.2" class="S" font-size="6.8" font-weight="normal" fill="#1a1a1a" text-anchor="middle" style="stroke-width:0.1px" textLength="18.22" lengthAdjust="spacingAndGlyphs" stroke="#1a1a1a">0.288</text><text x="378.4" y="352.2" class="S" font-size="6.8" font-weight="normal" fill="#1a1a1a" text-anchor="middle" style="stroke-width:0.1px" textLength="18.22" lengthAdjust="spacingAndGlyphs" stroke="#1a1a1a">0.584</text>
<text x="68.9" y="363.9" class="S" font-size="6.8" fill="#1a1a1a" text-anchor="start" style="stroke-width:0.08px" textLength="34.3" lengthAdjust="spacingAndGlyphs" stroke="#1a1a1a">R<tspan font-size="5.17">I</tspan><tspan font-size="5.17">B</tspan><tspan font-size="5.17">O</tspan>F<tspan font-size="5.17">L</tspan><tspan font-size="5.17">O</tspan><tspan font-size="5.17">W</tspan></text><text x="147.8" y="363.9" class="S" font-size="6.8" font-weight="normal" fill="#1a1a1a" text-anchor="middle" style="stroke-width:0.1px" textLength="16.87" lengthAdjust="spacingAndGlyphs" stroke="#1a1a1a">-4.25</text><text x="179.7" y="363.9" class="S" font-size="6.8" font-weight="normal" fill="#1a1a1a" text-anchor="middle" style="stroke-width:0.1px" textLength="16.87" lengthAdjust="spacingAndGlyphs" stroke="#1a1a1a">-4.12</text><text x="229.4" y="363.9" class="S" font-size="6.8" font-weight="normal" fill="#1a1a1a" text-anchor="middle" style="stroke-width:0.1px" textLength="18.22" lengthAdjust="spacingAndGlyphs" stroke="#1a1a1a">0.283</text><text x="271.5" y="363.9" class="S" font-size="6.8" font-weight="normal" fill="#1a1a1a" text-anchor="middle" style="stroke-width:0.1px" textLength="14.17" lengthAdjust="spacingAndGlyphs" stroke="#1a1a1a">22.8</text><text x="310" y="363.9" class="S" font-size="6.8" font-weight="normal" fill="#1a1a1a" text-anchor="middle" style="stroke-width:0.1px" textLength="14.17" lengthAdjust="spacingAndGlyphs" stroke="#1a1a1a">10.8</text><text x="345.6" y="363.9" class="S" font-size="6.8" font-weight="normal" fill="#1a1a1a" text-anchor="middle" style="stroke-width:0.1px" textLength="18.22" lengthAdjust="spacingAndGlyphs" stroke="#1a1a1a">0.226</text><text x="378.4" y="363.9" class="S" font-size="6.8" font-weight="normal" fill="#1a1a1a" text-anchor="middle" style="stroke-width:0.1px" textLength="18.22" lengthAdjust="spacingAndGlyphs" stroke="#1a1a1a">0.640</text>
<text x="69.4" y="371.7" class="S" font-size="6.8" fill="#1a1a1a" text-anchor="start" style="stroke-width:0.08px" textLength="17.5" lengthAdjust="spacingAndGlyphs" stroke="#1a1a1a">+ P<tspan font-size="5.17">R</tspan><tspan font-size="5.17">E</tspan></text><text x="147.8" y="371.7" class="S" font-size="6.8" font-weight="bold" fill="#1a1a1a" text-anchor="middle" style="stroke-width:0.1px" textLength="16.87" lengthAdjust="spacingAndGlyphs" stroke="#1a1a1a">-4.39</text><text x="179.7" y="371.7" class="S" font-size="6.8" font-weight="bold" fill="#1a1a1a" text-anchor="middle" style="stroke-width:0.1px" textLength="16.87" lengthAdjust="spacingAndGlyphs" stroke="#1a1a1a">-4.31</text><text x="229.4" y="371.7" class="S" font-size="6.8" font-weight="bold" fill="#1a1a1a" text-anchor="middle" style="stroke-width:0.1px" textLength="18.22" lengthAdjust="spacingAndGlyphs" stroke="#1a1a1a">0.437</text><text x="271.5" y="371.7" class="S" font-size="6.8" font-weight="normal" fill="#1a1a1a" text-anchor="middle" style="stroke-width:0.1px" textLength="14.17" lengthAdjust="spacingAndGlyphs" stroke="#1a1a1a">48.4</text><line x1="264.4" y1="373.05" x2="278.6" y2="373.05" stroke="#2a2a2a" stroke-width="0.7"/><text x="310" y="371.7" class="S" font-size="6.8" font-weight="bold" fill="#1a1a1a" text-anchor="middle" style="stroke-width:0.1px" textLength="14.17" lengthAdjust="spacingAndGlyphs" stroke="#1a1a1a">30.8</text><text x="345.6" y="371.7" class="S" font-size="6.8" font-weight="normal" fill="#1a1a1a" text-anchor="middle" style="stroke-width:0.1px" textLength="18.22" lengthAdjust="spacingAndGlyphs" stroke="#1a1a1a">0.354</text><line x1="336.5" y1="373.05" x2="354.7" y2="373.05" stroke="#2a2a2a" stroke-width="0.7"/><text x="378.4" y="371.7" class="S" font-size="6.8" font-weight="bold" fill="#1a1a1a" text-anchor="middle" style="stroke-width:0.1px" textLength="18.22" lengthAdjust="spacingAndGlyphs" stroke="#1a1a1a">0.514</text>
<text x="69.4" y="379.5" class="S" font-size="6.8" fill="#1a1a1a" text-anchor="start" style="stroke-width:0.08px" textLength="22.5" lengthAdjust="spacingAndGlyphs" stroke="#1a1a1a">+ C<tspan font-size="5.17">R</tspan><tspan font-size="5.17">O</tspan><tspan font-size="5.17">P</tspan></text><text x="147.8" y="379.5" class="S" font-size="6.8" font-weight="normal" fill="#1a1a1a" text-anchor="middle" style="stroke-width:0.1px" textLength="16.87" lengthAdjust="spacingAndGlyphs" stroke="#1a1a1a">-4.38</text><line x1="139.4" y1="380.85" x2="156.2" y2="380.85" stroke="#2a2a2a" stroke-width="0.7"/><text x="179.7" y="379.5" class="S" font-size="6.8" font-weight="normal" fill="#1a1a1a" text-anchor="middle" style="stroke-width:0.1px" textLength="16.87" lengthAdjust="spacingAndGlyphs" stroke="#1a1a1a">-4.27</text><line x1="171.3" y1="380.85" x2="188.1" y2="380.85" stroke="#2a2a2a" stroke-width="0.7"/><text x="229.4" y="379.5" class="S" font-size="6.8" font-weight="normal" fill="#1a1a1a" text-anchor="middle" style="stroke-width:0.1px" textLength="18.22" lengthAdjust="spacingAndGlyphs" stroke="#1a1a1a">0.402</text><text x="271.5" y="379.5" class="S" font-size="6.8" font-weight="normal" fill="#1a1a1a" text-anchor="middle" style="stroke-width:0.1px" textLength="14.17" lengthAdjust="spacingAndGlyphs" stroke="#1a1a1a">34.7</text><text x="310" y="379.5" class="S" font-size="6.8" font-weight="normal" fill="#1a1a1a" text-anchor="middle" style="stroke-width:0.1px" textLength="14.17" lengthAdjust="spacingAndGlyphs" stroke="#1a1a1a">12.1</text><text x="345.6" y="379.5" class="S" font-size="6.8" font-weight="normal" fill="#1a1a1a" text-anchor="middle" style="stroke-width:0.1px" textLength="18.22" lengthAdjust="spacingAndGlyphs" stroke="#1a1a1a">0.293</text><text x="378.4" y="379.5" class="S" font-size="6.8" font-weight="normal" fill="#1a1a1a" text-anchor="middle" style="stroke-width:0.1px" textLength="18.22" lengthAdjust="spacingAndGlyphs" stroke="#1a1a1a">0.603</text>
<text x="69.4" y="387.3" class="S" font-size="6.8" fill="#1a1a1a" text-anchor="start" style="stroke-width:0.08px" textLength="43.1" lengthAdjust="spacingAndGlyphs" stroke="#1a1a1a">+ P<tspan font-size="5.17">R</tspan><tspan font-size="5.17">E</tspan> + C<tspan font-size="5.17">R</tspan><tspan font-size="5.17">O</tspan><tspan font-size="5.17">P</tspan></text><text x="147.8" y="387.3" class="S" font-size="6.8" font-weight="normal" fill="#1a1a1a" text-anchor="middle" style="stroke-width:0.1px" textLength="16.87" lengthAdjust="spacingAndGlyphs" stroke="#1a1a1a">-4.30</text><text x="179.7" y="387.3" class="S" font-size="6.8" font-weight="normal" fill="#1a1a1a" text-anchor="middle" style="stroke-width:0.1px" textLength="16.87" lengthAdjust="spacingAndGlyphs" stroke="#1a1a1a">-4.18</text><text x="229.4" y="387.3" class="S" font-size="6.8" font-weight="normal" fill="#1a1a1a" text-anchor="middle" style="stroke-width:0.1px" textLength="18.22" lengthAdjust="spacingAndGlyphs" stroke="#1a1a1a">0.411</text><line x1="220.3" y1="388.65000000000003" x2="238.5" y2="388.65000000000003" stroke="#2a2a2a" stroke-width="0.7"/><text x="271.5" y="387.3" class="S" font-size="6.8" font-weight="bold" fill="#1a1a1a" text-anchor="middle" style="stroke-width:0.1px" textLength="14.17" lengthAdjust="spacingAndGlyphs" stroke="#1a1a1a">50.1</text><text x="310" y="387.3" class="S" font-size="6.8" font-weight="normal" fill="#1a1a1a" text-anchor="middle" style="stroke-width:0.1px" textLength="14.17" lengthAdjust="spacingAndGlyphs" stroke="#1a1a1a">24.2</text><line x1="302.9" y1="388.65000000000003" x2="317.1" y2="388.65000000000003" stroke="#2a2a2a" stroke-width="0.7"/><text x="345.6" y="387.3" class="S" font-size="6.8" font-weight="bold" fill="#1a1a1a" text-anchor="middle" style="stroke-width:0.1px" textLength="18.22" lengthAdjust="spacingAndGlyphs" stroke="#1a1a1a">0.376</text><text x="378.4" y="387.3" class="S" font-size="6.8" font-weight="normal" fill="#1a1a1a" text-anchor="middle" style="stroke-width:0.1px" textLength="18.22" lengthAdjust="spacingAndGlyphs" stroke="#1a1a1a">0.534</text><line x1="369.3" y1="388.65000000000003" x2="387.5" y2="388.65000000000003" stroke="#2a2a2a" stroke-width="0.7"/>
<line x1="65" y1="336.0" x2="395.3" y2="336.0" stroke="#555" stroke-width="1.0"/>
<line x1="65" y1="355.6" x2="395.3" y2="355.6" stroke="#555" stroke-width="1.0"/>
<line x1="65" y1="390.6" x2="395.3" y2="390.6" stroke="#555" stroke-width="1.0"/>
<rect x="65" y="392.9" width="330.3" height="8.5" fill="#cfe4f6"/>
<text x="68.75" y="398.79999999999995" class="S" font-size="6.8" fill="#1a1a1a" text-anchor="start" style="stroke-width:0.08px" textLength="207" lengthAdjust="spacingAndGlyphs" stroke="#1a1a1a">G<tspan font-size="5.17">E</tspan><tspan font-size="5.17">N</tspan><tspan font-size="5.17">E</tspan><tspan font-size="5.17">R</tspan><tspan font-size="5.17">A</tspan><tspan font-size="5.17">T</tspan><tspan font-size="5.17">I</tspan><tspan font-size="5.17">O</tspan><tspan font-size="5.17">N</tspan> G<tspan font-size="5.17">I</tspan><tspan font-size="5.17">V</tspan><tspan font-size="5.17">E</tspan><tspan font-size="5.17">N</tspan> L<tspan font-size="5.17">I</tspan><tspan font-size="5.17">G</tspan><tspan font-size="5.17">A</tspan><tspan font-size="5.17">N</tspan><tspan font-size="5.17">D</tspan> S<tspan font-size="5.17">T</tspan><tspan font-size="5.17">R</tspan><tspan font-size="5.17">U</tspan><tspan font-size="5.17">C</tspan><tspan font-size="5.17">T</tspan><tspan font-size="5.17">U</tspan><tspan font-size="5.17">R</tspan><tspan font-size="5.17">E</tspan> <tspan font-size="5.17">A</tspan><tspan font-size="5.17">N</tspan><tspan font-size="5.17">D</tspan> S<tspan font-size="5.17">A</tspan><tspan font-size="5.17">M</tspan><tspan font-size="5.17">P</tspan><tspan font-size="5.17">L</tspan><tspan font-size="5.17">I</tspan><tspan font-size="5.17">N</tspan><tspan font-size="5.17">G</tspan> L<tspan font-size="5.17">E</tspan><tspan font-size="5.17">N</tspan><tspan font-size="5.17">G</tspan><tspan font-size="5.17">T</tspan><tspan font-size="5.17">H</tspan></text>
<text x="68.9" y="410.4" class="S" font-size="6.8" fill="#1a1a1a" text-anchor="start" style="stroke-width:0.08px" textLength="28.8" lengthAdjust="spacingAndGlyphs" stroke="#1a1a1a">R<tspan font-size="5.17">A</tspan><tspan font-size="5.17">N</tspan><tspan font-size="5.17">D</tspan><tspan font-size="5.17">O</tspan><tspan font-size="5.17">M</tspan></text><text x="147.8" y="410.4" class="S" font-size="6.8" font-weight="normal" fill="#1a1a1a" text-anchor="middle" style="stroke-width:0.1px" textLength="16.87" lengthAdjust="spacingAndGlyphs" stroke="#1a1a1a">-2.91</text><text x="179.7" y="410.4" class="S" font-size="6.8" font-weight="normal" fill="#1a1a1a" text-anchor="middle" style="stroke-width:0.1px" textLength="16.87" lengthAdjust="spacingAndGlyphs" stroke="#1a1a1a">-2.82</text><text x="229.4" y="410.4" class="S" font-size="6.8" font-weight="normal" fill="#1a1a1a" text-anchor="middle" style="stroke-width:0.1px" textLength="18.22" lengthAdjust="spacingAndGlyphs" stroke="#1a1a1a">0.113</text><text x="271.5" y="410.4" class="S" font-size="6.8" font-weight="normal" fill="#1a1a1a" text-anchor="middle" style="stroke-width:0.1px" textLength="14.17" lengthAdjust="spacingAndGlyphs" stroke="#1a1a1a">5.25</text><text x="310" y="410.4" class="S" font-size="6.8" font-weight="normal" fill="#1a1a1a" text-anchor="middle" style="stroke-width:0.1px" stroke="#1a1a1a">-</text><text x="345.6" y="410.4" class="S" font-size="6.8" font-weight="normal" fill="#1a1a1a" text-anchor="middle" style="stroke-width:0.1px" stroke="#1a1a1a">-</text><text x="378.4" y="410.4" class="S" font-size="6.8" font-weight="normal" fill="#1a1a1a" text-anchor="middle" style="stroke-width:0.1px" stroke="#1a1a1a">-</text>
<text x="68.9" y="418.0" class="S" font-size="6.8" fill="#1a1a1a" text-anchor="start" style="stroke-width:0.08px" textLength="59.3" lengthAdjust="spacingAndGlyphs" stroke="#1a1a1a">RNA-F<tspan font-size="5.17">R</tspan><tspan font-size="5.17">A</tspan><tspan font-size="5.17">M</tspan><tspan font-size="5.17">E</tspan>F<tspan font-size="5.17">L</tspan><tspan font-size="5.17">O</tspan><tspan font-size="5.17">W</tspan></text><text x="147.8" y="418.0" class="S" font-size="6.8" font-weight="normal" fill="#1a1a1a" text-anchor="middle" style="stroke-width:0.1px" textLength="16.87" lengthAdjust="spacingAndGlyphs" stroke="#1a1a1a">-4.27</text><text x="179.7" y="418.0" class="S" font-size="6.8" font-weight="normal" fill="#1a1a1a" text-anchor="middle" style="stroke-width:0.1px" textLength="16.87" lengthAdjust="spacingAndGlyphs" stroke="#1a1a1a">-4.15</text><text x="229.4" y="418.0" class="S" font-size="6.8" font-weight="normal" fill="#1a1a1a" text-anchor="middle" style="stroke-width:0.1px" textLength="18.22" lengthAdjust="spacingAndGlyphs" stroke="#1a1a1a">0.209</text><text x="271.5" y="418.0" class="S" font-size="6.8" font-weight="normal" fill="#1a1a1a" text-anchor="middle" style="stroke-width:0.1px" textLength="14.17" lengthAdjust="spacingAndGlyphs" stroke="#1a1a1a">22.7</text><text x="310" y="418.0" class="S" font-size="6.8" font-weight="normal" fill="#1a1a1a" text-anchor="middle" style="stroke-width:0.1px" textLength="14.17" lengthAdjust="spacingAndGlyphs" stroke="#1a1a1a">22.7</text><text x="345.6" y="418.0" class="S" font-size="6.8" font-weight="normal" fill="#1a1a1a" text-anchor="middle" style="stroke-width:0.1px" textLength="18.22" lengthAdjust="spacingAndGlyphs" stroke="#1a1a1a">0.545</text><text x="378.4" y="418.0" class="S" font-size="6.8" font-weight="normal" fill="#1a1a1a" text-anchor="middle" style="stroke-width:0.1px" textLength="18.22" lengthAdjust="spacingAndGlyphs" stroke="#1a1a1a">0.574</text>
<text x="68.9" y="430.2" class="S" font-size="6.8" fill="#1a1a1a" text-anchor="start" style="stroke-width:0.08px" textLength="34.3" lengthAdjust="spacingAndGlyphs" stroke="#1a1a1a">R<tspan font-size="5.17">I</tspan><tspan font-size="5.17">B</tspan><tspan font-size="5.17">O</tspan>F<tspan font-size="5.17">L</tspan><tspan font-size="5.17">O</tspan><tspan font-size="5.17">W</tspan></text><text x="147.8" y="430.2" class="S" font-size="6.8" font-weight="normal" fill="#1a1a1a" text-anchor="middle" style="stroke-width:0.1px" textLength="16.87" lengthAdjust="spacingAndGlyphs" stroke="#1a1a1a">-4.61</text><text x="179.7" y="430.2" class="S" font-size="6.8" font-weight="normal" fill="#1a1a1a" text-anchor="middle" style="stroke-width:0.1px" textLength="16.87" lengthAdjust="spacingAndGlyphs" stroke="#1a1a1a">-4.48</text><text x="229.4" y="430.2" class="S" font-size="6.8" font-weight="normal" fill="#1a1a1a" text-anchor="middle" style="stroke-width:0.1px" textLength="18.22" lengthAdjust="spacingAndGlyphs" stroke="#1a1a1a">0.297</text><text x="271.5" y="430.2" class="S" font-size="6.8" font-weight="normal" fill="#1a1a1a" text-anchor="middle" style="stroke-width:0.1px" textLength="14.17" lengthAdjust="spacingAndGlyphs" stroke="#1a1a1a">25.7</text><text x="310" y="430.2" class="S" font-size="6.8" font-weight="normal" fill="#1a1a1a" text-anchor="middle" style="stroke-width:0.1px" textLength="14.17" lengthAdjust="spacingAndGlyphs" stroke="#1a1a1a">10.8</text><text x="345.6" y="430.2" class="S" font-size="6.8" font-weight="normal" fill="#1a1a1a" text-anchor="middle" style="stroke-width:0.1px" textLength="18.22" lengthAdjust="spacingAndGlyphs" stroke="#1a1a1a">0.517</text><text x="378.4" y="430.2" class="S" font-size="6.8" font-weight="normal" fill="#1a1a1a" text-anchor="middle" style="stroke-width:0.1px" textLength="18.22" lengthAdjust="spacingAndGlyphs" stroke="#1a1a1a">0.669</text>
<text x="69.4" y="438.0" class="S" font-size="6.8" fill="#1a1a1a" text-anchor="start" style="stroke-width:0.08px" textLength="17.5" lengthAdjust="spacingAndGlyphs" stroke="#1a1a1a">+ P<tspan font-size="5.17">R</tspan><tspan font-size="5.17">E</tspan></text><text x="147.8" y="438.0" class="S" font-size="6.8" font-weight="bold" fill="#1a1a1a" text-anchor="middle" style="stroke-width:0.1px" textLength="16.87" lengthAdjust="spacingAndGlyphs" stroke="#1a1a1a">-4.67</text><text x="179.7" y="438.0" class="S" font-size="6.8" font-weight="normal" fill="#1a1a1a" text-anchor="middle" style="stroke-width:0.1px" textLength="16.87" lengthAdjust="spacingAndGlyphs" stroke="#1a1a1a">-4.55</text><line x1="171.3" y1="439.35" x2="188.1" y2="439.35" stroke="#2a2a2a" stroke-width="0.7"/><text x="229.4" y="438.0" class="S" font-size="6.8" font-weight="bold" fill="#1a1a1a" text-anchor="middle" style="stroke-width:0.1px" textLength="18.22" lengthAdjust="spacingAndGlyphs" stroke="#1a1a1a">0.467</text><text x="271.5" y="438.0" class="S" font-size="6.8" font-weight="normal" fill="#1a1a1a" text-anchor="middle" style="stroke-width:0.1px" textLength="14.17" lengthAdjust="spacingAndGlyphs" stroke="#1a1a1a">51.2</text><line x1="264.4" y1="439.35" x2="278.6" y2="439.35" stroke="#2a2a2a" stroke-width="0.7"/><text x="310" y="438.0" class="S" font-size="6.8" font-weight="bold" fill="#1a1a1a" text-anchor="middle" style="stroke-width:0.1px" textLength="14.17" lengthAdjust="spacingAndGlyphs" stroke="#1a1a1a">35.8</text><text x="345.6" y="438.0" class="S" font-size="6.8" font-weight="normal" fill="#1a1a1a" text-anchor="middle" style="stroke-width:0.1px" textLength="18.22" lengthAdjust="spacingAndGlyphs" stroke="#1a1a1a">0.575</text><line x1="336.5" y1="439.35" x2="354.7" y2="439.35" stroke="#2a2a2a" stroke-width="0.7"/><text x="378.4" y="438.0" class="S" font-size="6.8" font-weight="bold" fill="#1a1a1a" text-anchor="middle" style="stroke-width:0.1px" textLength="18.22" lengthAdjust="spacingAndGlyphs" stroke="#1a1a1a">0.519</text>
<text x="69.4" y="445.8" class="S" font-size="6.8" fill="#1a1a1a" text-anchor="start" style="stroke-width:0.08px" textLength="22.5" lengthAdjust="spacingAndGlyphs" stroke="#1a1a1a">+ C<tspan font-size="5.17">R</tspan><tspan font-size="5.17">O</tspan><tspan font-size="5.17">P</tspan></text><text x="147.8" y="445.8" class="S" font-size="6.8" font-weight="normal" fill="#1a1a1a" text-anchor="middle" style="stroke-width:0.1px" textLength="16.87" lengthAdjust="spacingAndGlyphs" stroke="#1a1a1a">-4.63</text><line x1="139.4" y1="447.15000000000003" x2="156.2" y2="447.15000000000003" stroke="#2a2a2a" stroke-width="0.7"/><text x="179.7" y="445.8" class="S" font-size="6.8" font-weight="bold" fill="#1a1a1a" text-anchor="middle" style="stroke-width:0.1px" textLength="16.87" lengthAdjust="spacingAndGlyphs" stroke="#1a1a1a">-4.56</text><text x="229.4" y="445.8" class="S" font-size="6.8" font-weight="normal" fill="#1a1a1a" text-anchor="middle" style="stroke-width:0.1px" textLength="18.22" lengthAdjust="spacingAndGlyphs" stroke="#1a1a1a">0.456</text><line x1="220.3" y1="447.15000000000003" x2="238.5" y2="447.15000000000003" stroke="#2a2a2a" stroke-width="0.7"/><text x="271.5" y="445.8" class="S" font-size="6.8" font-weight="normal" fill="#1a1a1a" text-anchor="middle" style="stroke-width:0.1px" textLength="14.17" lengthAdjust="spacingAndGlyphs" stroke="#1a1a1a">38.9</text><text x="310" y="445.8" class="S" font-size="6.8" font-weight="normal" fill="#1a1a1a" text-anchor="middle" style="stroke-width:0.1px" textLength="14.17" lengthAdjust="spacingAndGlyphs" stroke="#1a1a1a">12.7</text><text x="345.6" y="445.8" class="S" font-size="6.8" font-weight="normal" fill="#1a1a1a" text-anchor="middle" style="stroke-width:0.1px" textLength="18.22" lengthAdjust="spacingAndGlyphs" stroke="#1a1a1a">0.522</text><text x="378.4" y="445.8" class="S" font-size="6.8" font-weight="normal" fill="#1a1a1a" text-anchor="middle" style="stroke-width:0.1px" textLength="18.22" lengthAdjust="spacingAndGlyphs" stroke="#1a1a1a">0.613</text>
<text x="69.4" y="453.6" class="S" font-size="6.8" fill="#1a1a1a" text-anchor="start" style="stroke-width:0.08px" textLength="43.1" lengthAdjust="spacingAndGlyphs" stroke="#1a1a1a">+ P<tspan font-size="5.17">R</tspan><tspan font-size="5.17">E</tspan> + C<tspan font-size="5.17">R</tspan><tspan font-size="5.17">O</tspan><tspan font-size="5.17">P</tspan></text><text x="147.8" y="453.6" class="S" font-size="6.8" font-weight="normal" fill="#1a1a1a" text-anchor="middle" style="stroke-width:0.1px" textLength="16.87" lengthAdjust="spacingAndGlyphs" stroke="#1a1a1a">-4.58</text><text x="179.7" y="453.6" class="S" font-size="6.8" font-weight="normal" fill="#1a1a1a" text-anchor="middle" style="stroke-width:0.1px" textLength="16.87" lengthAdjust="spacingAndGlyphs" stroke="#1a1a1a">-4.43</text><text x="229.4" y="453.6" class="S" font-size="6.8" font-weight="normal" fill="#1a1a1a" text-anchor="middle" style="stroke-width:0.1px" textLength="18.22" lengthAdjust="spacingAndGlyphs" stroke="#1a1a1a">0.448</text><text x="271.5" y="453.6" class="S" font-size="6.8" font-weight="bold" fill="#1a1a1a" text-anchor="middle" style="stroke-width:0.1px" textLength="14.17" lengthAdjust="spacingAndGlyphs" stroke="#1a1a1a">54.8</text><text x="310" y="453.6" class="S" font-size="6.8" font-weight="normal" fill="#1a1a1a" text-anchor="middle" style="stroke-width:0.1px" textLength="14.17" lengthAdjust="spacingAndGlyphs" stroke="#1a1a1a">25.6</text><line x1="302.9" y1="454.95000000000005" x2="317.1" y2="454.95000000000005" stroke="#2a2a2a" stroke-width="0.7"/><text x="345.6" y="453.6" class="S" font-size="6.8" font-weight="bold" fill="#1a1a1a" text-anchor="middle" style="stroke-width:0.1px" textLength="18.22" lengthAdjust="spacingAndGlyphs" stroke="#1a1a1a">0.589</text><text x="378.4" y="453.6" class="S" font-size="6.8" font-weight="normal" fill="#1a1a1a" text-anchor="middle" style="stroke-width:0.1px" textLength="18.22" lengthAdjust="spacingAndGlyphs" stroke="#1a1a1a">0.527</text><line x1="369.3" y1="454.95000000000005" x2="387.5" y2="454.95000000000005" stroke="#2a2a2a" stroke-width="0.7"/>
<line x1="65" y1="402.5" x2="395.3" y2="402.5" stroke="#555" stroke-width="1.0"/>
<line x1="65" y1="422.0" x2="395.3" y2="422.0" stroke="#555" stroke-width="1.0"/>
<line x1="65" y1="457.1" x2="395.3" y2="457.1" stroke="#555" stroke-width="1.0"/>
<rect x="65" y="459.3" width="330.3" height="8.5" fill="#f6dde0"/>
<text x="68.75" y="465.2" class="S" font-size="6.8" fill="#1a1a1a" text-anchor="start" style="stroke-width:0.08px" textLength="197" lengthAdjust="spacingAndGlyphs" stroke="#1a1a1a">G<tspan font-size="5.17">E</tspan><tspan font-size="5.17">N</tspan><tspan font-size="5.17">E</tspan><tspan font-size="5.17">R</tspan><tspan font-size="5.17">A</tspan><tspan font-size="5.17">T</tspan><tspan font-size="5.17">I</tspan><tspan font-size="5.17">O</tspan><tspan font-size="5.17">N</tspan> G<tspan font-size="5.17">I</tspan><tspan font-size="5.17">V</tspan><tspan font-size="5.17">E</tspan><tspan font-size="5.17">N</tspan> L<tspan font-size="5.17">I</tspan><tspan font-size="5.17">G</tspan><tspan font-size="5.17">A</tspan><tspan font-size="5.17">N</tspan><tspan font-size="5.17">D</tspan> SMILES <tspan font-size="5.17">A</tspan><tspan font-size="5.17">N</tspan><tspan font-size="5.17">D</tspan> S<tspan font-size="5.17">A</tspan><tspan font-size="5.17">M</tspan><tspan font-size="5.17">P</tspan><tspan font-size="5.17">L</tspan><tspan font-size="5.17">I</tspan><tspan font-size="5.17">N</tspan><tspan font-size="5.17">G</tspan> L<tspan font-size="5.17">E</tspan><tspan font-size="5.17">N</tspan><tspan font-size="5.17">G</tspan><tspan font-size="5.17">T</tspan><tspan font-size="5.17">H</tspan></text>
<text x="68.9" y="477.3" class="S" font-size="6.8" fill="#1a1a1a" text-anchor="start" style="stroke-width:0.08px" textLength="28.8" lengthAdjust="spacingAndGlyphs" stroke="#1a1a1a">R<tspan font-size="5.17">A</tspan><tspan font-size="5.17">N</tspan><tspan font-size="5.17">D</tspan><tspan font-size="5.17">O</tspan><tspan font-size="5.17">M</tspan></text><text x="147.8" y="477.3" class="S" font-size="6.8" font-weight="normal" fill="#1a1a1a" text-anchor="middle" style="stroke-width:0.1px" textLength="16.87" lengthAdjust="spacingAndGlyphs" stroke="#1a1a1a">-3.32</text><text x="179.7" y="477.3" class="S" font-size="6.8" font-weight="normal" fill="#1a1a1a" text-anchor="middle" style="stroke-width:0.1px" textLength="16.87" lengthAdjust="spacingAndGlyphs" stroke="#1a1a1a">-3.13</text><text x="229.4" y="477.3" class="S" font-size="6.8" font-weight="normal" fill="#1a1a1a" text-anchor="middle" style="stroke-width:0.1px" textLength="18.22" lengthAdjust="spacingAndGlyphs" stroke="#1a1a1a">0.107</text><text x="271.5" y="477.3" class="S" font-size="6.8" font-weight="normal" fill="#1a1a1a" text-anchor="middle" style="stroke-width:0.1px" textLength="14.17" lengthAdjust="spacingAndGlyphs" stroke="#1a1a1a">3.54</text><text x="310" y="477.3" class="S" font-size="6.8" font-weight="normal" fill="#1a1a1a" text-anchor="middle" style="stroke-width:0.1px" stroke="#1a1a1a">-</text><text x="345.6" y="477.3" class="S" font-size="6.8" font-weight="normal" fill="#1a1a1a" text-anchor="middle" style="stroke-width:0.1px" stroke="#1a1a1a">-</text><text x="378.4" y="477.3" class="S" font-size="6.8" font-weight="normal" fill="#1a1a1a" text-anchor="middle" style="stroke-width:0.1px" stroke="#1a1a1a">-</text>
<text x="68.9" y="484.9" class="S" font-size="6.8" fill="#1a1a1a" text-anchor="start" style="stroke-width:0.08px" textLength="59.3" lengthAdjust="spacingAndGlyphs" stroke="#1a1a1a">RNA-F<tspan font-size="5.17">R</tspan><tspan font-size="5.17">A</tspan><tspan font-size="5.17">M</tspan><tspan font-size="5.17">E</tspan>F<tspan font-size="5.17">L</tspan><tspan font-size="5.17">O</tspan><tspan font-size="5.17">W</tspan></text><text x="147.8" y="484.9" class="S" font-size="6.8" font-weight="normal" fill="#1a1a1a" text-anchor="middle" style="stroke-width:0.1px" textLength="16.87" lengthAdjust="spacingAndGlyphs" stroke="#1a1a1a">-4.51</text><text x="179.7" y="484.9" class="S" font-size="6.8" font-weight="normal" fill="#1a1a1a" text-anchor="middle" style="stroke-width:0.1px" textLength="16.87" lengthAdjust="spacingAndGlyphs" stroke="#1a1a1a">-4.48</text><text x="229.4" y="484.9" class="S" font-size="6.8" font-weight="normal" fill="#1a1a1a" text-anchor="middle" style="stroke-width:0.1px" textLength="18.22" lengthAdjust="spacingAndGlyphs" stroke="#1a1a1a">0.200</text><text x="271.5" y="484.9" class="S" font-size="6.8" font-weight="normal" fill="#1a1a1a" text-anchor="middle" style="stroke-width:0.1px" textLength="14.17" lengthAdjust="spacingAndGlyphs" stroke="#1a1a1a">22.3</text><text x="310" y="484.9" class="S" font-size="6.8" font-weight="normal" fill="#1a1a1a" text-anchor="middle" style="stroke-width:0.1px" textLength="14.17" lengthAdjust="spacingAndGlyphs" stroke="#1a1a1a">23.9</text><text x="345.6" y="484.9" class="S" font-size="6.8" font-weight="normal" fill="#1a1a1a" text-anchor="middle" style="stroke-width:0.1px" textLength="18.22" lengthAdjust="spacingAndGlyphs" stroke="#1a1a1a">0.556</text><text x="378.4" y="484.9" class="S" font-size="6.8" font-weight="normal" fill="#1a1a1a" text-anchor="middle" style="stroke-width:0.1px" textLength="18.22" lengthAdjust="spacingAndGlyphs" stroke="#1a1a1a">0.581</text>
<text x="68.9" y="496.7" class="S" font-size="6.8" fill="#1a1a1a" text-anchor="start" style="stroke-width:0.08px" textLength="34.3" lengthAdjust="spacingAndGlyphs" stroke="#1a1a1a">R<tspan font-size="5.17">I</tspan><tspan font-size="5.17">B</tspan><tspan font-size="5.17">O</tspan>F<tspan font-size="5.17">L</tspan><tspan font-size="5.17">O</tspan><tspan font-size="5.17">W</tspan></text><text x="147.8" y="496.7" class="S" font-size="6.8" font-weight="normal" fill="#1a1a1a" text-anchor="middle" style="stroke-width:0.1px" textLength="16.87" lengthAdjust="spacingAndGlyphs" stroke="#1a1a1a">-5.01</text><text x="179.7" y="496.7" class="S" font-size="6.8" font-weight="normal" fill="#1a1a1a" text-anchor="middle" style="stroke-width:0.1px" textLength="16.87" lengthAdjust="spacingAndGlyphs" stroke="#1a1a1a">-4.82</text><text x="229.4" y="496.7" class="S" font-size="6.8" font-weight="normal" fill="#1a1a1a" text-anchor="middle" style="stroke-width:0.1px" textLength="18.22" lengthAdjust="spacingAndGlyphs" stroke="#1a1a1a">0.304</text><text x="271.5" y="496.7" class="S" font-size="6.8" font-weight="normal" fill="#1a1a1a" text-anchor="middle" style="stroke-width:0.1px" textLength="14.17" lengthAdjust="spacingAndGlyphs" stroke="#1a1a1a">15.4</text><text x="310" y="496.7" class="S" font-size="6.8" font-weight="normal" fill="#1a1a1a" text-anchor="middle" style="stroke-width:0.1px" textLength="14.17" lengthAdjust="spacingAndGlyphs" stroke="#1a1a1a">11.2</text><text x="345.6" y="496.7" class="S" font-size="6.8" font-weight="normal" fill="#1a1a1a" text-anchor="middle" style="stroke-width:0.1px" textLength="18.22" lengthAdjust="spacingAndGlyphs" stroke="#1a1a1a">0.522</text><text x="378.4" y="496.7" class="S" font-size="6.8" font-weight="normal" fill="#1a1a1a" text-anchor="middle" style="stroke-width:0.1px" textLength="18.22" lengthAdjust="spacingAndGlyphs" stroke="#1a1a1a">0.656</text>
<text x="69.4" y="504.5" class="S" font-size="6.8" fill="#1a1a1a" text-anchor="start" style="stroke-width:0.08px" textLength="17.5" lengthAdjust="spacingAndGlyphs" stroke="#1a1a1a">+ P<tspan font-size="5.17">R</tspan><tspan font-size="5.17">E</tspan></text><text x="147.8" y="504.5" class="S" font-size="6.8" font-weight="bold" fill="#1a1a1a" text-anchor="middle" style="stroke-width:0.1px" textLength="16.87" lengthAdjust="spacingAndGlyphs" stroke="#1a1a1a">-5.12</text><text x="179.7" y="504.5" class="S" font-size="6.8" font-weight="bold" fill="#1a1a1a" text-anchor="middle" style="stroke-width:0.1px" textLength="16.87" lengthAdjust="spacingAndGlyphs" stroke="#1a1a1a">-5.07</text><text x="229.4" y="504.5" class="S" font-size="6.8" font-weight="normal" fill="#1a1a1a" text-anchor="middle" style="stroke-width:0.1px" textLength="18.22" lengthAdjust="spacingAndGlyphs" stroke="#1a1a1a">0.469</text><line x1="220.3" y1="505.85" x2="238.5" y2="505.85" stroke="#2a2a2a" stroke-width="0.7"/><text x="271.5" y="504.5" class="S" font-size="6.8" font-weight="normal" fill="#1a1a1a" text-anchor="middle" style="stroke-width:0.1px" textLength="14.17" lengthAdjust="spacingAndGlyphs" stroke="#1a1a1a">45.7</text><line x1="264.4" y1="505.85" x2="278.6" y2="505.85" stroke="#2a2a2a" stroke-width="0.7"/><text x="310" y="504.5" class="S" font-size="6.8" font-weight="bold" fill="#1a1a1a" text-anchor="middle" style="stroke-width:0.1px" textLength="14.17" lengthAdjust="spacingAndGlyphs" stroke="#1a1a1a">34.1</text><text x="345.6" y="504.5" class="S" font-size="6.8" font-weight="bold" fill="#1a1a1a" text-anchor="middle" style="stroke-width:0.1px" textLength="18.22" lengthAdjust="spacingAndGlyphs" stroke="#1a1a1a">0.561</text><text x="378.4" y="504.5" class="S" font-size="6.8" font-weight="normal" fill="#1a1a1a" text-anchor="middle" style="stroke-width:0.1px" textLength="18.22" lengthAdjust="spacingAndGlyphs" stroke="#1a1a1a">0.537</text><line x1="369.3" y1="505.85" x2="387.5" y2="505.85" stroke="#2a2a2a" stroke-width="0.7"/>
<text x="69.4" y="512.4" class="S" font-size="6.8" fill="#1a1a1a" text-anchor="start" style="stroke-width:0.08px" textLength="22.5" lengthAdjust="spacingAndGlyphs" stroke="#1a1a1a">+ C<tspan font-size="5.17">R</tspan><tspan font-size="5.17">O</tspan><tspan font-size="5.17">P</tspan></text><text x="147.8" y="512.4" class="S" font-size="6.8" font-weight="normal" fill="#1a1a1a" text-anchor="middle" style="stroke-width:0.1px" textLength="16.87" lengthAdjust="spacingAndGlyphs" stroke="#1a1a1a">-5.10</text><line x1="139.4" y1="513.75" x2="156.2" y2="513.75" stroke="#2a2a2a" stroke-width="0.7"/><text x="179.7" y="512.4" class="S" font-size="6.8" font-weight="normal" fill="#1a1a1a" text-anchor="middle" style="stroke-width:0.1px" textLength="16.87" lengthAdjust="spacingAndGlyphs" stroke="#1a1a1a">-4.99</text><line x1="171.3" y1="513.75" x2="188.1" y2="513.75" stroke="#2a2a2a" stroke-width="0.7"/><text x="229.4" y="512.4" class="S" font-size="6.8" font-weight="normal" fill="#1a1a1a" text-anchor="middle" style="stroke-width:0.1px" textLength="18.22" lengthAdjust="spacingAndGlyphs" stroke="#1a1a1a">0.451</text><text x="271.5" y="512.4" class="S" font-size="6.8" font-weight="normal" fill="#1a1a1a" text-anchor="middle" style="stroke-width:0.1px" textLength="14.17" lengthAdjust="spacingAndGlyphs" stroke="#1a1a1a">27.9</text><text x="310" y="512.4" class="S" font-size="6.8" font-weight="normal" fill="#1a1a1a" text-anchor="middle" style="stroke-width:0.1px" textLength="14.17" lengthAdjust="spacingAndGlyphs" stroke="#1a1a1a">12.3</text><text x="345.6" y="512.4" class="S" font-size="6.8" font-weight="normal" fill="#1a1a1a" text-anchor="middle" style="stroke-width:0.1px" textLength="18.22" lengthAdjust="spacingAndGlyphs" stroke="#1a1a1a">0.546</text><text x="378.4" y="512.4" class="S" font-size="6.8" font-weight="normal" fill="#1a1a1a" text-anchor="middle" style="stroke-width:0.1px" textLength="18.22" lengthAdjust="spacingAndGlyphs" stroke="#1a1a1a">0.609</text>
<text x="69.4" y="520.4" class="S" font-size="6.8" fill="#1a1a1a" text-anchor="start" style="stroke-width:0.08px" textLength="43.1" lengthAdjust="spacingAndGlyphs" stroke="#1a1a1a">+ P<tspan font-size="5.17">R</tspan><tspan font-size="5.17">E</tspan> + C<tspan font-size="5.17">R</tspan><tspan font-size="5.17">O</tspan><tspan font-size="5.17">P</tspan></text><text x="147.8" y="520.4" class="S" font-size="6.8" font-weight="normal" fill="#1a1a1a" text-anchor="middle" style="stroke-width:0.1px" textLength="16.87" lengthAdjust="spacingAndGlyphs" stroke="#1a1a1a">-4.96</text><text x="179.7" y="520.4" class="S" font-size="6.8" font-weight="normal" fill="#1a1a1a" text-anchor="middle" style="stroke-width:0.1px" textLength="16.87" lengthAdjust="spacingAndGlyphs" stroke="#1a1a1a">-4.84</text><text x="229.4" y="520.4" class="S" font-size="6.8" font-weight="normal" fill="#1a1a1a" text-anchor="middle" style="stroke-width:0.1px" textLength="18.22" lengthAdjust="spacingAndGlyphs" stroke="#1a1a1a">0.460</text><text x="271.5" y="520.4" class="S" font-size="6.8" font-weight="normal" fill="#1a1a1a" text-anchor="middle" style="stroke-width:0.1px" textLength="14.17" lengthAdjust="spacingAndGlyphs" stroke="#1a1a1a">39.8</text><text x="310" y="520.4" class="S" font-size="6.8" font-weight="normal" fill="#1a1a1a" text-anchor="middle" style="stroke-width:0.1px" textLength="14.17" lengthAdjust="spacingAndGlyphs" stroke="#1a1a1a">26.1</text><line x1="302.9" y1="521.75" x2="317.1" y2="521.75" stroke="#2a2a2a" stroke-width="0.7"/><text x="345.6" y="520.4" class="S" font-size="6.8" font-weight="normal" fill="#1a1a1a" text-anchor="middle" style="stroke-width:0.1px" textLength="18.22" lengthAdjust="spacingAndGlyphs" stroke="#1a1a1a">0.559</text><line x1="336.5" y1="521.75" x2="354.7" y2="521.75" stroke="#2a2a2a" stroke-width="0.7"/><text x="378.4" y="520.4" class="S" font-size="6.8" font-weight="normal" fill="#1a1a1a" text-anchor="middle" style="stroke-width:0.1px" textLength="18.22" lengthAdjust="spacingAndGlyphs" stroke="#1a1a1a">0.540</text>
<text x="68.9" y="528.0" class="S" font-size="6.8" fill="#1a1a1a" text-anchor="start" style="stroke-width:0.08px" textLength="41.2" lengthAdjust="spacingAndGlyphs" stroke="#1a1a1a">R<tspan font-size="5.17">I</tspan><tspan font-size="5.17">B</tspan><tspan font-size="5.17">O</tspan>F<tspan font-size="5.17">L</tspan><tspan font-size="5.17">O</tspan><tspan font-size="5.17">W</tspan>-T</text><text x="147.8" y="528.0" class="S" font-size="6.8" font-weight="normal" fill="#1a1a1a" text-anchor="middle" style="stroke-width:0.1px" textLength="16.87" lengthAdjust="spacingAndGlyphs" stroke="#1a1a1a">-5.07</text><text x="179.7" y="528.0" class="S" font-size="6.8" font-weight="normal" fill="#1a1a1a" text-anchor="middle" style="stroke-width:0.1px" textLength="16.87" lengthAdjust="spacingAndGlyphs" stroke="#1a1a1a">-4.94</text><text x="229.4" y="528.0" class="S" font-size="6.8" font-weight="bold" fill="#1a1a1a" text-anchor="middle" style="stroke-width:0.1px" textLength="18.22" lengthAdjust="spacingAndGlyphs" stroke="#1a1a1a">0.472</text><text x="271.5" y="528.0" class="S" font-size="6.8" font-weight="bold" fill="#1a1a1a" text-anchor="middle" style="stroke-width:0.1px" textLength="14.17" lengthAdjust="spacingAndGlyphs" stroke="#1a1a1a">46.2</text><text x="310" y="528.0" class="S" font-size="6.8" font-weight="normal" fill="#1a1a1a" text-anchor="middle" style="stroke-width:0.1px" textLength="14.17" lengthAdjust="spacingAndGlyphs" stroke="#1a1a1a">22.4</text><text x="345.6" y="528.0" class="S" font-size="6.8" font-weight="normal" fill="#1a1a1a" text-anchor="middle" style="stroke-width:0.1px" textLength="18.22" lengthAdjust="spacingAndGlyphs" stroke="#1a1a1a">0.550</text><text x="378.4" y="528.0" class="S" font-size="6.8" font-weight="bold" fill="#1a1a1a" text-anchor="middle" style="stroke-width:0.1px" textLength="18.22" lengthAdjust="spacingAndGlyphs" stroke="#1a1a1a">0.524</text>
<line x1="65" y1="468.75" x2="395.3" y2="468.75" stroke="#555" stroke-width="1.0"/>
<line x1="65" y1="488.6" x2="395.3" y2="488.6" stroke="#555" stroke-width="1.0"/>
<line x1="65" y1="531.9" x2="395.3" y2="531.9" stroke="#555" stroke-width="1.4"/>
<text x="498.8" y="367" class="A" font-size="11.4" font-weight="bold" font-style="normal" fill="#111" text-anchor="middle" textLength="61.5" lengthAdjust="spacingAndGlyphs"  stroke="#111">Length&gt;200</text>
<line x1="526.7" y1="394" x2="595" y2="339.3" stroke="#444" stroke-width="0.6"/>
<line x1="521.3" y1="468.9" x2="595" y2="465" stroke="#444" stroke-width="0.7" stroke-dasharray="1.4,1.2"/>
<path d="M577,386 L586,391 L582,399 L583,425 L580,440" fill="none" stroke="#9d968a" stroke-width="3.2" stroke-linecap="round" stroke-linejoin="round"/><path d="M577,386 L586,391 L582,399 L583,425 L580,440" fill="none" stroke="#fbf8f0" stroke-width="2.2" stroke-linecap="round" stroke-linejoin="round"/>
<line x1="552" y1="413" x2="570" y2="409" stroke="#f1dfb9" stroke-width="2.6" stroke-linecap="round"/>
<line x1="556" y1="420" x2="575" y2="416" stroke="#f1dfb9" stroke-width="2.6" stroke-linecap="round"/>
<line x1="561" y1="431" x2="575" y2="418" stroke="#f1dfb9" stroke-width="2.6" stroke-linecap="round"/>
<line x1="566" y1="440" x2="581" y2="429" stroke="#f1dfb9" stroke-width="2.6" stroke-linecap="round"/>
<line x1="573" y1="446" x2="584" y2="457" stroke="#f1dfb9" stroke-width="2.6" stroke-linecap="round"/>
<line x1="579" y1="398" x2="576" y2="420" stroke="#f1dfb9" stroke-width="2.6" stroke-linecap="round"/>
<line x1="568" y1="452" x2="582" y2="468" stroke="#f1dfb9" stroke-width="2.6" stroke-linecap="round"/>
<path d="M543.7,394.2 C550,400 556,406 566.5,410 C572,408 577,402 580.5,389" fill="none" stroke="#d9c7a0" stroke-width="4.2" stroke-linecap="round" stroke-linejoin="round"/><path d="M543.7,394.2 C550,400 556,406 566.5,410 C572,408 577,402 580.5,389" fill="none" stroke="#f3e2bd" stroke-width="3.2" stroke-linecap="round" stroke-linejoin="round"/>
<path d="M541.5,394.7 C546,392.5 550,398 555,406 C560,415 563,421 566.3,426.3 C571,434 574,440 577.5,444.3 C580,448 582,452 584.3,455.5" fill="none" stroke="#d5b983" stroke-width="5.6" stroke-linecap="round" stroke-linejoin="round"/><path d="M541.5,394.7 C546,392.5 550,398 555,406 C560,415 563,421 566.3,426.3 C571,434 574,440 577.5,444.3 C580,448 582,452 584.3,455.5" fill="none" stroke="#f0d7a0" stroke-width="4.6" stroke-linecap="round" stroke-linejoin="round"/>
<line x1="532.5" y1="381.3" x2="528" y2="397" stroke="#f2cf8a" stroke-width="2.6" stroke-linecap="round"/>
<path d="M416,409 L419,407 L424,431 L421,433 Z" fill="#fbf8f2" stroke="#b8b0a0" stroke-width="0.7"/>
<path d="M418,408 C421,405.5 425,404 429,403.4 C432,402 434,399 437,397.5 C440,396.5 444,397 447.5,402.3" fill="none" stroke="#d9bd88" stroke-width="4.8" stroke-linecap="round" stroke-linejoin="round"/><path d="M418,408 C421,405.5 425,404 429,403.4 C432,402 434,399 437,397.5 C440,396.5 444,397 447.5,402.3" fill="none" stroke="#f3e0b4" stroke-width="3.8" stroke-linecap="round" stroke-linejoin="round"/>
<path d="M419,421 C419.5,426 420,430 421.5,431.6 C423,435 426,438 428,439 C432,440 436,440 436.7,439 C440,438 444,436 447.5,434.8 C450,434 452,433 454,432.7" fill="none" stroke="#d2b482" stroke-width="5.2" stroke-linecap="round" stroke-linejoin="round"/><path d="M419,421 C419.5,426 420,430 421.5,431.6 C423,435 426,438 428,439 C432,440 436,440 436.7,439 C440,438 444,436 447.5,434.8 C450,434 452,433 454,432.7" fill="none" stroke="#ecd3a0" stroke-width="4.2" stroke-linecap="round" stroke-linejoin="round"/>
<line x1="423.7" y1="423" x2="435.6" y2="417" stroke="#efd7a4" stroke-width="2.2" stroke-linecap="round"/>
<line x1="436.7" y1="419.7" x2="443.2" y2="405.6" stroke="#f2d79a" stroke-width="2.2" stroke-linecap="round"/>
<line x1="428" y1="434.8" x2="441" y2="427.3" stroke="#ead09a" stroke-width="2.2" stroke-linecap="round"/>
<line x1="442" y1="424" x2="449.7" y2="420.8" stroke="#f0b540" stroke-width="2.4" stroke-linecap="round"/>
<line x1="461.6" y1="436" x2="461.6" y2="455" stroke="#f0b030" stroke-width="2.8" stroke-linecap="round"/>
<line x1="467" y1="434" x2="468" y2="455" stroke="#f0b030" stroke-width="2.8" stroke-linecap="round"/>
<line x1="472" y1="430" x2="473" y2="450" stroke="#f0b030" stroke-width="2.8" stroke-linecap="round"/>
<line x1="456" y1="431" x2="458" y2="445" stroke="#f0b030" stroke-width="2.8" stroke-linecap="round"/>
<line x1="466" y1="418" x2="466" y2="428" stroke="#f0b030" stroke-width="2.8" stroke-linecap="round"/>
<line x1="471" y1="413" x2="472" y2="424" stroke="#f0b030" stroke-width="2.8" stroke-linecap="round"/>
<line x1="476" y1="409" x2="477" y2="418" stroke="#f0b030" stroke-width="2.8" stroke-linecap="round"/>
<path d="M449.3,433 C455,429 460,425 465,421.8 C470,418 474,413 478.5,408.3 C480,406 481,404.5 481.9,403.8" fill="none" stroke="#d49a30" stroke-width="6.2" stroke-linecap="round" stroke-linejoin="round"/><path d="M449.3,433 C455,429 460,425 465,421.8 C470,418 474,413 478.5,408.3 C480,406 481,404.5 481.9,403.8" fill="none" stroke="#f0b848" stroke-width="5.2" stroke-linecap="round" stroke-linejoin="round"/>
<path d="M487.5,430.8 C494,431 500,432 505.5,433 C512,435 517,437 521.3,439.8 C524,442 526,444 528,446.5" fill="none" stroke="#cf9d55" stroke-width="6.2" stroke-linecap="round" stroke-linejoin="round"/><path d="M487.5,430.8 C494,431 500,432 505.5,433 C512,435 517,437 521.3,439.8 C524,442 526,444 528,446.5" fill="none" stroke="#e9b86e" stroke-width="5.2" stroke-linecap="round" stroke-linejoin="round"/>
<path d="M521.3,401.5 C523,400 524.5,399 525.8,399.3 C529,402 532,406 534.8,410.5 C537,414 539,418 541.5,421.8" fill="none" stroke="#d08c22" stroke-width="6.0" stroke-linecap="round" stroke-linejoin="round"/><path d="M521.3,401.5 C523,400 524.5,399 525.8,399.3 C529,402 532,406 534.8,410.5 C537,414 539,418 541.5,421.8" fill="none" stroke="#eea83a" stroke-width="5.0" stroke-linecap="round" stroke-linejoin="round"/>
<line x1="480.8" y1="419.5" x2="494.3" y2="426.3" stroke="#f4ab1c" stroke-width="2.8" stroke-linecap="round"/>
<line x1="483" y1="432" x2="494" y2="433" stroke="#f4ab1c" stroke-width="2.8" stroke-linecap="round"/>
<line x1="486" y1="440" x2="496" y2="440" stroke="#f4ab1c" stroke-width="2.8" stroke-linecap="round"/>
<line x1="498" y1="424" x2="497" y2="436" stroke="#f4ab1c" stroke-width="2.8" stroke-linecap="round"/>
<line x1="529.75" y1="411.75" x2="531.5" y2="423" stroke="#f4ab1c" stroke-width="2.8" stroke-linecap="round"/>
<line x1="536.75" y1="422.25" x2="535" y2="434" stroke="#f4ab1c" stroke-width="2.8" stroke-linecap="round"/>
<line x1="547.25" y1="434.5" x2="552.5" y2="450" stroke="#f4ab1c" stroke-width="2.8" stroke-linecap="round"/>
<line x1="505" y1="416" x2="498" y2="427" stroke="#f4ab1c" stroke-width="2.8" stroke-linecap="round"/>
<line x1="515" y1="418" x2="522" y2="428" stroke="#f4ab1c" stroke-width="2.8" stroke-linecap="round"/>
<line x1="540" y1="440" x2="544" y2="456" stroke="#f4ab1c" stroke-width="2.8" stroke-linecap="round"/>
<line x1="487" y1="447" x2="489" y2="458" stroke="#f4ab1c" stroke-width="2.8" stroke-linecap="round"/>
<line x1="525" y1="447" x2="527" y2="462" stroke="#f4ab1c" stroke-width="2.8" stroke-linecap="round"/>
<line x1="512" y1="445" x2="514" y2="462" stroke="#f4ab1c" stroke-width="2.8" stroke-linecap="round"/>
<line x1="489" y1="404" x2="496" y2="412" stroke="#f4ab1c" stroke-width="2.8" stroke-linecap="round"/>
<line x1="518" y1="424" x2="519" y2="434" stroke="#f4ab1c" stroke-width="2.8" stroke-linecap="round"/>
<line x1="504" y1="440" x2="505" y2="450" stroke="#f4ab1c" stroke-width="2.8" stroke-linecap="round"/>
<line x1="498" y1="452" x2="500" y2="463" stroke="#f4ab1c" stroke-width="2.8" stroke-linecap="round"/>
<line x1="532" y1="426" x2="534" y2="440" stroke="#f4ab1c" stroke-width="2.8" stroke-linecap="round"/>
<path d="M447.5,402.3 C450,406 451.8,410 452.5,414 C453.5,422 452.5,428 452,434 C452,442 454,450 457,455.5 C460,460 464,462 467.3,462.3 C470,462.5 472,462 474,461" fill="none" stroke="#c99028" stroke-width="6.0" stroke-linecap="round" stroke-linejoin="round"/><path d="M447.5,402.3 C450,406 451.8,410 452.5,414 C453.5,422 452.5,428 452,434 C452,442 454,450 457,455.5 C460,460 464,462 467.3,462.3 C470,462.5 472,462 474,461" fill="none" stroke="#f4b52c" stroke-width="5.0" stroke-linecap="round" stroke-linejoin="round"/>
<path d="M481.9,405 C481.5,412 481.2,419 480.8,426.3 C480,433 478,438 476.3,442 C475,447 474.5,451 474,455.5 C473.5,459 473.2,462 472.9,464.5" fill="none" stroke="#c08016" stroke-width="6.2" stroke-linecap="round" stroke-linejoin="round"/><path d="M481.9,405 C481.5,412 481.2,419 480.8,426.3 C480,433 478,438 476.3,442 C475,447 474.5,451 474,455.5 C473.5,459 473.2,462 472.9,464.5" fill="none" stroke="#f4ab1c" stroke-width="5.2" stroke-linecap="round" stroke-linejoin="round"/>
<path d="M476.3,455.5 C480,457 484,458.5 487.5,460 C492,462 496,464.5 501,466.8 C506,468.5 510,469 514.5,469 C518,468 521,466.5 523.5,464.5 C527,461.5 530,458.5 532.5,455.5" fill="none" stroke="#c08016" stroke-width="6.2" stroke-linecap="round" stroke-linejoin="round"/><path d="M476.3,455.5 C480,457 484,458.5 487.5,460 C492,462 496,464.5 501,466.8 C506,468.5 510,469 514.5,469 C518,468 521,466.5 523.5,464.5 C527,461.5 530,458.5 532.5,455.5" fill="none" stroke="#f4ab1c" stroke-width="5.2" stroke-linecap="round" stroke-linejoin="round"/>
<path d="M508.9,407.1 C506,413 503.5,418.5 501,424 C498,430 495,435 492,439.8 C488,445 484.5,449.5 480.8,453.3" fill="none" stroke="#c08016" stroke-width="5.8" stroke-linecap="round" stroke-linejoin="round"/><path d="M508.9,407.1 C506,413 503.5,418.5 501,424 C498,430 495,435 492,439.8 C488,445 484.5,449.5 480.8,453.3" fill="none" stroke="#f4ab1c" stroke-width="4.8" stroke-linecap="round" stroke-linejoin="round"/>
<path d="M508.9,407.1 C512,413 515.5,418.5 519,424 C523,431 527,438 530.3,444.3 C533,449 536,452.5 539.3,455.5 C541.5,457.5 543.5,459 546,460 C551,460 555,458 559.5,455.5 C562,453 564,450 566.3,446.5" fill="none" stroke="#c08016" stroke-width="6.4" stroke-linecap="round" stroke-linejoin="round"/><path d="M508.9,407.1 C512,413 515.5,418.5 519,424 C523,431 527,438 530.3,444.3 C533,449 536,452.5 539.3,455.5 C541.5,457.5 543.5,459 546,460 C551,460 555,458 559.5,455.5 C562,453 564,450 566.3,446.5" fill="none" stroke="#f4ab1c" stroke-width="5.4" stroke-linecap="round" stroke-linejoin="round"/>
<path d="M485.3,457.8 L490,453 L494.3,448.8 L497,444 L498.8,439.8 L502,436 L505.5,433 L509,430.5 L512.3,428.5 M485.3,457.8 L486,462 L490,464 L493,460" fill="none" stroke="#1a2a9c" stroke-width="2.1" stroke-linejoin="round"/>
<ellipse cx="507.2" cy="436.8" rx="39" ry="41" fill="none" stroke="#1a1a1a" stroke-width="1.3" stroke-dasharray="3.2,2.2"/>
<text x="438" y="503.5" class="A" font-size="13.6" fill="#1a1a1a" textLength="138" lengthAdjust="spacingAndGlyphs" stroke="#1a1a1a">...AUC<tspan fill="#b3581c" stroke="#b3581c">...UGGUA...</tspan>UGA...</text>
<clipPath id="bx"><rect x="595.5" y="338.8" width="109.4" height="126.5"/></clipPath>
<g clip-path="url(#bx)">
<rect x="595.5" y="338.8" width="109.4" height="126.5" fill="#fff"/>
<path d="M657.5,404.8 C665,402 675,401.5 683,405 C690,408.5 694,415 696.9,425" fill="none" stroke="#d9a860" stroke-width="7.8" stroke-linecap="round" stroke-linejoin="round"/><path d="M657.5,404.8 C665,402 675,401.5 683,405 C690,408.5 694,415 696.9,425" fill="none" stroke="#eec27e" stroke-width="6.8" stroke-linecap="round" stroke-linejoin="round"/>
<path d="M700.3,339.5 C703,348 703.5,357.5 700,365 C697,371 692,375 686.8,376.6" fill="none" stroke="#d4922a" stroke-width="5.6" stroke-linecap="round" stroke-linejoin="round"/><path d="M700.3,339.5 C703,348 703.5,357.5 700,365 C697,371 692,375 686.8,376.6" fill="none" stroke="#f0a830" stroke-width="4.6" stroke-linecap="round" stroke-linejoin="round"/>
<line x1="596.75" y1="380" x2="612.5" y2="366.5" stroke="#f5a518" stroke-width="3.8" stroke-linecap="round"/>
<line x1="612.5" y1="359.75" x2="612.5" y2="389" stroke="#f5a518" stroke-width="3.8" stroke-linecap="round"/>
<line x1="621.5" y1="362" x2="641.75" y2="378.9" stroke="#f5a518" stroke-width="3.8" stroke-linecap="round"/>
<line x1="626" y1="371" x2="631.6" y2="386.75" stroke="#f5a518" stroke-width="3.8" stroke-linecap="round"/>
<line x1="610.25" y1="402.5" x2="611.4" y2="420.5" stroke="#f5a518" stroke-width="3.8" stroke-linecap="round"/>
<line x1="599" y1="386.75" x2="599" y2="395.75" stroke="#f5a518" stroke-width="3.8" stroke-linecap="round"/>
<line x1="627.1" y1="393.5" x2="646.25" y2="394.6" stroke="#f5a518" stroke-width="3.8" stroke-linecap="round"/>
<line x1="646.25" y1="376.6" x2="664.25" y2="368.75" stroke="#f5a518" stroke-width="3.8" stroke-linecap="round"/>
<line x1="651.9" y1="373.25" x2="655.25" y2="402.5" stroke="#f5a518" stroke-width="3.8" stroke-linecap="round"/>
<line x1="664.25" y1="368.75" x2="664.25" y2="391.25" stroke="#f5a518" stroke-width="3.8" stroke-linecap="round"/>
<line x1="662" y1="418.25" x2="650.75" y2="445.25" stroke="#f5a518" stroke-width="3.8" stroke-linecap="round"/>
<line x1="677.75" y1="418.25" x2="675.5" y2="452" stroke="#f5a518" stroke-width="3.8" stroke-linecap="round"/>
<line x1="693.5" y1="427.25" x2="693.5" y2="452" stroke="#f5a518" stroke-width="3.8" stroke-linecap="round"/>
<line x1="630.5" y1="402.5" x2="623.75" y2="425" stroke="#f5a518" stroke-width="3.8" stroke-linecap="round"/>
<line x1="675" y1="389" x2="680" y2="405" stroke="#f5a518" stroke-width="3.8" stroke-linecap="round"/>
<line x1="688" y1="382" x2="700" y2="378" stroke="#f5a518" stroke-width="3.8" stroke-linecap="round"/>
<line x1="696" y1="395" x2="704" y2="392" stroke="#f5a518" stroke-width="3.8" stroke-linecap="round"/>
<path d="M619.3,347.4 C620.5,355 621.5,365 622.5,375 C623.5,388 624,398 621.5,409.3 C619,415 614,418 610.3,420.5 C606,426 604,432 603.5,436.3 C601,446 600,454 599,466" fill="none" stroke="#dc8c0c" stroke-width="8.5" stroke-linecap="round" stroke-linejoin="round"/><path d="M619.3,347.4 C620.5,355 621.5,365 622.5,375 C623.5,388 624,398 621.5,409.3 C619,415 614,418 610.3,420.5 C606,426 604,432 603.5,436.3 C601,446 600,454 599,466" fill="none" stroke="#f5a518" stroke-width="7.5" stroke-linecap="round" stroke-linejoin="round"/>
<path d="M618.5,346 L620,360" fill="none" stroke="#dc8c0c" stroke-width="5.5" stroke-linecap="round" stroke-linejoin="round"/><path d="M618.5,346 L620,360" fill="none" stroke="#f5a518" stroke-width="4.5" stroke-linecap="round" stroke-linejoin="round"/>
<path d="M594.5,449.8 C600,445 606,440 612.5,436.3 C619,432 625,428 630.5,425 C637,421 643,419.5 648.5,418.3" fill="none" stroke="#dc8c0c" stroke-width="5.6" stroke-linecap="round" stroke-linejoin="round"/><path d="M594.5,449.8 C600,445 606,440 612.5,436.3 C619,432 625,428 630.5,425 C637,421 643,419.5 648.5,418.3" fill="none" stroke="#f5a518" stroke-width="4.6" stroke-linecap="round" stroke-linejoin="round"/>
<path d="M603.5,420.5 C610,421 617,423 623.8,425 C629,427 633,429 637.3,431.8 C643,436 647,442 650.8,447.5 C656,454 662,459 668.8,461 C675,463 681,462 686.8,459.9 C693,457 698,452 705,444" fill="none" stroke="#dc8c0c" stroke-width="9.2" stroke-linecap="round" stroke-linejoin="round"/><path d="M603.5,420.5 C610,421 617,423 623.8,425 C629,427 633,429 637.3,431.8 C643,436 647,442 650.8,447.5 C656,454 662,459 668.8,461 C675,463 681,462 686.8,459.9 C693,457 698,452 705,444" fill="none" stroke="#f5a518" stroke-width="8.2" stroke-linecap="round" stroke-linejoin="round"/>
<path d="M668.8,350.8 C673,358 679,368 684.5,377.8 C689,386 694,393 698,400.3 C701,407 703,414 705,423" fill="none" stroke="#dc8c0c" stroke-width="10.0" stroke-linecap="round" stroke-linejoin="round"/><path d="M668.8,350.8 C673,358 679,368 684.5,377.8 C689,386 694,393 698,400.3 C701,407 703,414 705,423" fill="none" stroke="#f5a518" stroke-width="9.0" stroke-linecap="round" stroke-linejoin="round"/>
<path d="M676,388 L671,390 L667,395 L664,400 L657,404 L651,407 L649,416 L644,420 L640,427 L637,432 L632,441 L633,450 L639,454 L644,450" fill="none" stroke="#1a28a8" stroke-width="2.6" stroke-linejoin="round"/>
<path d="M657.5,404.8 L661,410 L655,414 L649.6,416 M644,420.5 L648,426 L642,432 L636.1,434 M632.8,450 L628,446 L632.8,441" fill="none" stroke="#1a28a8" stroke-width="2.0" stroke-linejoin="round"/>
<path d="M646,405 L649,420 M637,452 L646,450" fill="none" stroke="#3aa0c0" stroke-width="0.6" stroke-dasharray="1,0.8"/>
</g>
<rect x="595.5" y="338.8" width="109.4" height="126.5" fill="none" stroke="#333" stroke-width="1.3"/>
<text x="652.3" y="349.1" class="A" font-size="10.0" font-weight="bold" font-style="normal" fill="#111" text-anchor="middle" textLength="48.6" lengthAdjust="spacingAndGlyphs"  stroke="#111">Length=50</text>
<text x="615.4" y="484.4" class="A" font-size="13.2" fill="#b3581c" textLength="65.1" lengthAdjust="spacingAndGlyphs" stroke="#b3581c">...UGGUA...</text>
</svg>
</body></html>
